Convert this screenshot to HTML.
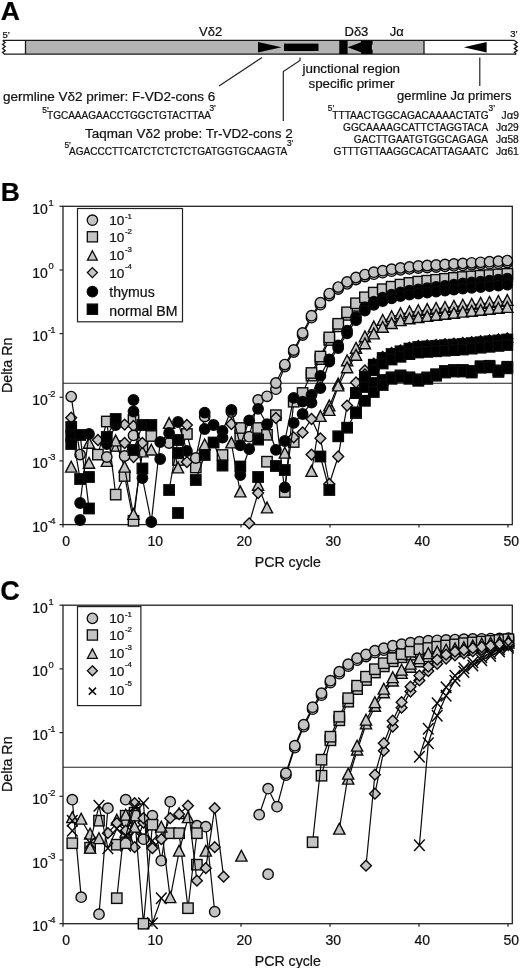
<!DOCTYPE html>
<html><head><meta charset="utf-8"><title>Figure</title>
<style>html,body{margin:0;padding:0;background:#fff}body{width:520px;height:968px;overflow:hidden}svg{display:block}text{font-family:"Liberation Sans",sans-serif;stroke:#111;stroke-width:.22px}</style>
</head><body>
<svg width="520" height="968" viewBox="0 0 520 968">
<rect width="520" height="968" fill="#fff"/>
<text x="0.7" y="20.3"  font-size="26.5" font-weight="bold" fill="#000">A</text>
<rect x="25.5" y="40.4" width="398.5" height="13.7" fill="#b3b3b3"/>
<path d="M3 40.4H514.6M4 54.1H516.2M25.5 40.4V54.1M424 40.4V54.1" fill="none" stroke="#1a1a1a" stroke-width="1.3"/>
<path d="M2.6 40.4L5.2 42.6L2.6 44.6L5.2 46.6L2.6 48.6L5.2 50.6L2.6 52.4L4.4 54.1" fill="none" stroke="#1a1a1a" stroke-width="1.3" stroke-linejoin="miter"/>
<path d="M514.4 40.4L517.2 42.6L514.4 44.6L517.2 46.6L514.4 48.6L517.2 50.6L514.4 52.4L516.2 54.1" fill="none" stroke="#1a1a1a" stroke-width="1.3" stroke-linejoin="miter"/>
<text x="2.5" y="37.5"  font-size="9.5" fill="#111">5’</text>
<text x="510.3" y="37.3"  font-size="9.5" fill="#111">3’</text>
<text x="199" y="36"  font-size="13" fill="#111">Vδ2</text>
<text x="344.5" y="36"  font-size="13" fill="#111">Dδ3</text>
<text x="389.7" y="36"  font-size="13" fill="#111">Jα</text>
<path d="M258 42L281.5 47.2L258 52.5Z" fill="#000"/>
<rect x="284" y="43.6" width="34.5" height="7.4" fill="#000"/>
<rect x="339.3" y="40.5" width="8.3" height="13.5" fill="#000"/>
<path d="M347.6 47.2L361 42.2L361 40.6L372.6 40.6L372.6 53.9L361 53.9L361 52.2Z" fill="#000"/>
<path d="M486.6 42L463.8 47.3L486.6 52.6Z" fill="#000"/>
<rect x="371.9" y="44.6" width="0.9" height="5" fill="#ddd"/>
<path d="M262 57.5L219 86" stroke="#222" stroke-width="1.2" fill="none"/>
<path d="M300 57.5L300 60.5L283.3 71.5L283.3 121" stroke="#222" stroke-width="1.2" fill="none"/>
<path d="M479.8 57.5L479.8 86" stroke="#222" stroke-width="1.2" fill="none"/>
<text x="3" y="100.5"  font-size="13.5" fill="#111">germline Vδ2 primer: F-VD2-cons 6</text>
<text x="47" y="119.3"  font-size="10.04" fill="#111">TGCAAAGAACCTGGCTGTACTTAA</text>
<text x="42.3" y="112.5"  font-size="8.3" fill="#111">5’</text>
<text x="209.5" y="111"  font-size="8.3" fill="#111">3’</text>
<text x="85" y="138"  font-size="13.45" fill="#111">Taqman Vδ2 probe: Tr-VD2-cons 2</text>
<text x="69" y="155"  font-size="10.06" fill="#111">AGACCCTTCATCTCTCTCTGATGGTGCAAGTA</text>
<text x="64.5" y="148"  font-size="8.3" fill="#111">5’</text>
<text x="287" y="146.3"  font-size="8.3" fill="#111">3’</text>
<text x="302.5" y="72.5"  font-size="13.4" fill="#111">junctional region</text>
<text x="308.5" y="87.5"  font-size="13.35" fill="#111">specific primer</text>
<text x="397" y="100"  font-size="13" fill="#111">germline Jα primers</text>
<text x="332.3" y="118.5"  font-size="10.14" fill="#111">TTTAACTGGCAGACAAAACTATG</text>
<text x="518.8" y="118.5" text-anchor="end"  font-size="10.2" fill="#111">J<tspan font-size="11.2">α</tspan>9</text>
<text x="343" y="130.9"  font-size="10.14" fill="#111">GGCAAAAGCATTCTAGGTACA</text>
<text x="518.8" y="130.9" text-anchor="end"  font-size="10.2" fill="#111">J<tspan font-size="11.2">α</tspan>29</text>
<text x="353.8" y="142.8"  font-size="10.14" fill="#111">GACTTGAATGTGGCAGAGA</text>
<text x="518.8" y="142.8" text-anchor="end"  font-size="10.2" fill="#111">J<tspan font-size="11.2">α</tspan>58</text>
<text x="333.5" y="154.7"  font-size="10.14" fill="#111">GTTTGTTAAGGCACATTAGAATC</text>
<text x="518.8" y="154.7" text-anchor="end"  font-size="10.2" fill="#111">J<tspan font-size="11.2">α</tspan>61</text>
<text x="327.8" y="110.8"  font-size="8.3" fill="#111">5’</text>
<text x="488.6" y="110.8"  font-size="8.3" fill="#111">3’</text>
<text x="0.7" y="201"  font-size="26.5" font-weight="bold" fill="#000">B</text>
<rect x="63" y="206.3" width="449.29999999999995" height="318.3" fill="none" stroke="#222" stroke-width="1.3"/>
<line x1="63" x2="512.3" y1="383.3" y2="383.3" stroke="#222" stroke-width="1.1"/>
<line x1="59.5" x2="63" y1="206.3" y2="206.3" stroke="#222" stroke-width="1.2"/>
<text x="47.9" y="213.8" text-anchor="end"  font-size="14" fill="#111">10</text>
<text x="48.4" y="205.7"  font-size="9.4" fill="#111">1</text>
<line x1="59.5" x2="63" y1="270.0" y2="270.0" stroke="#222" stroke-width="1.2"/>
<text x="47.9" y="277.5" text-anchor="end"  font-size="14" fill="#111">10</text>
<text x="48.4" y="269.4"  font-size="9.4" fill="#111">0</text>
<line x1="59.5" x2="63" y1="333.6" y2="333.6" stroke="#222" stroke-width="1.2"/>
<text x="47.9" y="341.1" text-anchor="end"  font-size="14" fill="#111">10</text>
<text x="48.0" y="333.0"  font-size="9.4" letter-spacing="-0.9" fill="#111">-1</text>
<line x1="59.5" x2="63" y1="397.3" y2="397.3" stroke="#222" stroke-width="1.2"/>
<text x="47.9" y="404.8" text-anchor="end"  font-size="14" fill="#111">10</text>
<text x="48.0" y="396.7"  font-size="9.4" letter-spacing="-0.9" fill="#111">-2</text>
<line x1="59.5" x2="63" y1="460.9" y2="460.9" stroke="#222" stroke-width="1.2"/>
<text x="47.9" y="468.4" text-anchor="end"  font-size="14" fill="#111">10</text>
<text x="48.0" y="460.3"  font-size="9.4" letter-spacing="-0.9" fill="#111">-3</text>
<line x1="59.5" x2="63" y1="524.6" y2="524.6" stroke="#222" stroke-width="1.2"/>
<text x="47.9" y="532.1" text-anchor="end"  font-size="14" fill="#111">10</text>
<text x="48.0" y="524.0"  font-size="9.4" letter-spacing="-0.9" fill="#111">-4</text>
<line x1="63.0" x2="63.0" y1="524.6" y2="527.6" stroke="#222" stroke-width="1.2"/>
<text x="66.2" y="545.8" text-anchor="middle"  font-size="14" fill="#111">0</text>
<line x1="152.0" x2="152.0" y1="524.6" y2="527.6" stroke="#222" stroke-width="1.2"/>
<text x="155.2" y="545.8" text-anchor="middle"  font-size="14" fill="#111">10</text>
<line x1="241.0" x2="241.0" y1="524.6" y2="527.6" stroke="#222" stroke-width="1.2"/>
<text x="244.2" y="545.8" text-anchor="middle"  font-size="14" fill="#111">20</text>
<line x1="330.0" x2="330.0" y1="524.6" y2="527.6" stroke="#222" stroke-width="1.2"/>
<text x="333.2" y="545.8" text-anchor="middle"  font-size="14" fill="#111">30</text>
<line x1="419.0" x2="419.0" y1="524.6" y2="527.6" stroke="#222" stroke-width="1.2"/>
<text x="422.2" y="545.8" text-anchor="middle"  font-size="14" fill="#111">40</text>
<line x1="508.0" x2="508.0" y1="524.6" y2="527.6" stroke="#222" stroke-width="1.2"/>
<text x="511.2" y="545.8" text-anchor="middle"  font-size="14" fill="#111">50</text>
<text x="287.8" y="566.6" text-anchor="middle"  font-size="14.2" fill="#111">PCR cycle</text>
<text transform="translate(12.1 365.3) rotate(-90)" text-anchor="middle"  font-size="14.3" fill="#111">Delta Rn</text>
<polyline fill="none" stroke="#0a0a0a" stroke-width="1.2" points="311.5,375.6 320.4,359.1 329.3,340.0 338.2,326.4 347.1,314.9 356.0,305.9 364.9,299.9 373.8,295.2 382.7,291.8 391.6,289.3 400.5,287.2 409.4,285.5 418.3,284.2 427.2,283.3 436.1,282.4 445.0,281.4 453.9,280.5 462.8,279.6 471.7,279.0 480.6,278.3 489.5,277.7 498.4,277.0 507.3,276.4"/>
<rect x="110.5" y="440.8" width="10.4" height="10.4" fill="#c4c4c4" stroke="#0a0a0a" stroke-width="1.4"/>
<rect x="128.3" y="414.8" width="10.4" height="10.4" fill="#c4c4c4" stroke="#0a0a0a" stroke-width="1.4"/>
<rect x="235.1" y="430.6" width="10.4" height="10.4" fill="#c4c4c4" stroke="#0a0a0a" stroke-width="1.4"/>
<rect x="261.8" y="456.5" width="10.4" height="10.4" fill="#c4c4c4" stroke="#0a0a0a" stroke-width="1.4"/>
<rect x="288.5" y="436.8" width="10.4" height="10.4" fill="#c4c4c4" stroke="#0a0a0a" stroke-width="1.4"/>
<rect x="306.3" y="370.4" width="10.4" height="10.4" fill="#c4c4c4" stroke="#0a0a0a" stroke-width="1.4"/>
<rect x="315.2" y="353.9" width="10.4" height="10.4" fill="#c4c4c4" stroke="#0a0a0a" stroke-width="1.4"/>
<rect x="324.1" y="334.8" width="10.4" height="10.4" fill="#c4c4c4" stroke="#0a0a0a" stroke-width="1.4"/>
<rect x="333.0" y="321.2" width="10.4" height="10.4" fill="#c4c4c4" stroke="#0a0a0a" stroke-width="1.4"/>
<rect x="341.9" y="309.7" width="10.4" height="10.4" fill="#c4c4c4" stroke="#0a0a0a" stroke-width="1.4"/>
<rect x="350.8" y="300.7" width="10.4" height="10.4" fill="#c4c4c4" stroke="#0a0a0a" stroke-width="1.4"/>
<rect x="359.7" y="294.7" width="10.4" height="10.4" fill="#c4c4c4" stroke="#0a0a0a" stroke-width="1.4"/>
<rect x="368.6" y="290.0" width="10.4" height="10.4" fill="#c4c4c4" stroke="#0a0a0a" stroke-width="1.4"/>
<rect x="377.5" y="286.6" width="10.4" height="10.4" fill="#c4c4c4" stroke="#0a0a0a" stroke-width="1.4"/>
<rect x="386.4" y="284.1" width="10.4" height="10.4" fill="#c4c4c4" stroke="#0a0a0a" stroke-width="1.4"/>
<rect x="395.3" y="282.0" width="10.4" height="10.4" fill="#c4c4c4" stroke="#0a0a0a" stroke-width="1.4"/>
<rect x="404.2" y="280.3" width="10.4" height="10.4" fill="#c4c4c4" stroke="#0a0a0a" stroke-width="1.4"/>
<rect x="413.1" y="279.0" width="10.4" height="10.4" fill="#c4c4c4" stroke="#0a0a0a" stroke-width="1.4"/>
<rect x="422.0" y="278.1" width="10.4" height="10.4" fill="#c4c4c4" stroke="#0a0a0a" stroke-width="1.4"/>
<rect x="430.9" y="277.2" width="10.4" height="10.4" fill="#c4c4c4" stroke="#0a0a0a" stroke-width="1.4"/>
<rect x="439.8" y="276.2" width="10.4" height="10.4" fill="#c4c4c4" stroke="#0a0a0a" stroke-width="1.4"/>
<rect x="448.7" y="275.3" width="10.4" height="10.4" fill="#c4c4c4" stroke="#0a0a0a" stroke-width="1.4"/>
<rect x="457.6" y="274.4" width="10.4" height="10.4" fill="#c4c4c4" stroke="#0a0a0a" stroke-width="1.4"/>
<rect x="466.5" y="273.8" width="10.4" height="10.4" fill="#c4c4c4" stroke="#0a0a0a" stroke-width="1.4"/>
<rect x="475.4" y="273.1" width="10.4" height="10.4" fill="#c4c4c4" stroke="#0a0a0a" stroke-width="1.4"/>
<rect x="484.3" y="272.5" width="10.4" height="10.4" fill="#c4c4c4" stroke="#0a0a0a" stroke-width="1.4"/>
<rect x="493.2" y="271.8" width="10.4" height="10.4" fill="#c4c4c4" stroke="#0a0a0a" stroke-width="1.4"/>
<rect x="502.1" y="271.2" width="10.4" height="10.4" fill="#c4c4c4" stroke="#0a0a0a" stroke-width="1.4"/>
<polyline fill="none" stroke="#0a0a0a" stroke-width="1.2" points="97.9,454.6 106.8,421.5 115.7,494.6 124.6,476.0 133.5,520.8 142.4,447.0 151.3,436.0"/>
<polyline fill="none" stroke="#0a0a0a" stroke-width="1.2" points="178.0,460.0 186.9,434.0 195.8,467.5"/>
<polyline fill="none" stroke="#0a0a0a" stroke-width="1.2" points="258.1,428.0 267.0,434.8 275.9,415.2 284.8,492.0 293.7,401.7 302.6,393.0 311.5,373.0 320.4,356.5 329.3,337.4 338.2,323.8 347.1,312.3 356.0,303.3 364.9,297.3 373.8,292.6 382.7,289.2 391.6,286.7 400.5,284.6 409.4,282.9 418.3,281.6 427.2,280.7 436.1,279.8 445.0,278.8 453.9,277.9 462.8,277.0 471.7,276.4 480.6,275.7 489.5,275.1 498.4,274.4 507.3,273.8"/>
<rect x="92.7" y="449.4" width="10.4" height="10.4" fill="#c4c4c4" stroke="#0a0a0a" stroke-width="1.4"/>
<rect x="101.6" y="416.3" width="10.4" height="10.4" fill="#c4c4c4" stroke="#0a0a0a" stroke-width="1.4"/>
<rect x="110.5" y="489.4" width="10.4" height="10.4" fill="#c4c4c4" stroke="#0a0a0a" stroke-width="1.4"/>
<rect x="119.4" y="470.8" width="10.4" height="10.4" fill="#c4c4c4" stroke="#0a0a0a" stroke-width="1.4"/>
<rect x="128.3" y="515.6" width="10.4" height="10.4" fill="#c4c4c4" stroke="#0a0a0a" stroke-width="1.4"/>
<rect x="137.2" y="441.8" width="10.4" height="10.4" fill="#c4c4c4" stroke="#0a0a0a" stroke-width="1.4"/>
<rect x="146.1" y="430.8" width="10.4" height="10.4" fill="#c4c4c4" stroke="#0a0a0a" stroke-width="1.4"/>
<rect x="172.8" y="454.8" width="10.4" height="10.4" fill="#c4c4c4" stroke="#0a0a0a" stroke-width="1.4"/>
<rect x="181.7" y="428.8" width="10.4" height="10.4" fill="#c4c4c4" stroke="#0a0a0a" stroke-width="1.4"/>
<rect x="190.6" y="462.3" width="10.4" height="10.4" fill="#c4c4c4" stroke="#0a0a0a" stroke-width="1.4"/>
<rect x="217.3" y="449.8" width="10.4" height="10.4" fill="#c4c4c4" stroke="#0a0a0a" stroke-width="1.4"/>
<rect x="235.1" y="422.8" width="10.4" height="10.4" fill="#c4c4c4" stroke="#0a0a0a" stroke-width="1.4"/>
<rect x="252.9" y="422.8" width="10.4" height="10.4" fill="#c4c4c4" stroke="#0a0a0a" stroke-width="1.4"/>
<rect x="261.8" y="429.6" width="10.4" height="10.4" fill="#c4c4c4" stroke="#0a0a0a" stroke-width="1.4"/>
<rect x="270.7" y="410.0" width="10.4" height="10.4" fill="#c4c4c4" stroke="#0a0a0a" stroke-width="1.4"/>
<rect x="279.6" y="486.8" width="10.4" height="10.4" fill="#c4c4c4" stroke="#0a0a0a" stroke-width="1.4"/>
<rect x="288.5" y="396.5" width="10.4" height="10.4" fill="#c4c4c4" stroke="#0a0a0a" stroke-width="1.4"/>
<rect x="297.4" y="387.8" width="10.4" height="10.4" fill="#c4c4c4" stroke="#0a0a0a" stroke-width="1.4"/>
<rect x="306.3" y="367.8" width="10.4" height="10.4" fill="#c4c4c4" stroke="#0a0a0a" stroke-width="1.4"/>
<rect x="315.2" y="351.3" width="10.4" height="10.4" fill="#c4c4c4" stroke="#0a0a0a" stroke-width="1.4"/>
<rect x="324.1" y="332.2" width="10.4" height="10.4" fill="#c4c4c4" stroke="#0a0a0a" stroke-width="1.4"/>
<rect x="333.0" y="318.6" width="10.4" height="10.4" fill="#c4c4c4" stroke="#0a0a0a" stroke-width="1.4"/>
<rect x="341.9" y="307.1" width="10.4" height="10.4" fill="#c4c4c4" stroke="#0a0a0a" stroke-width="1.4"/>
<rect x="350.8" y="298.1" width="10.4" height="10.4" fill="#c4c4c4" stroke="#0a0a0a" stroke-width="1.4"/>
<rect x="359.7" y="292.1" width="10.4" height="10.4" fill="#c4c4c4" stroke="#0a0a0a" stroke-width="1.4"/>
<rect x="368.6" y="287.4" width="10.4" height="10.4" fill="#c4c4c4" stroke="#0a0a0a" stroke-width="1.4"/>
<rect x="377.5" y="284.0" width="10.4" height="10.4" fill="#c4c4c4" stroke="#0a0a0a" stroke-width="1.4"/>
<rect x="386.4" y="281.5" width="10.4" height="10.4" fill="#c4c4c4" stroke="#0a0a0a" stroke-width="1.4"/>
<rect x="395.3" y="279.4" width="10.4" height="10.4" fill="#c4c4c4" stroke="#0a0a0a" stroke-width="1.4"/>
<rect x="404.2" y="277.7" width="10.4" height="10.4" fill="#c4c4c4" stroke="#0a0a0a" stroke-width="1.4"/>
<rect x="413.1" y="276.4" width="10.4" height="10.4" fill="#c4c4c4" stroke="#0a0a0a" stroke-width="1.4"/>
<rect x="422.0" y="275.5" width="10.4" height="10.4" fill="#c4c4c4" stroke="#0a0a0a" stroke-width="1.4"/>
<rect x="430.9" y="274.6" width="10.4" height="10.4" fill="#c4c4c4" stroke="#0a0a0a" stroke-width="1.4"/>
<rect x="439.8" y="273.6" width="10.4" height="10.4" fill="#c4c4c4" stroke="#0a0a0a" stroke-width="1.4"/>
<rect x="448.7" y="272.7" width="10.4" height="10.4" fill="#c4c4c4" stroke="#0a0a0a" stroke-width="1.4"/>
<rect x="457.6" y="271.8" width="10.4" height="10.4" fill="#c4c4c4" stroke="#0a0a0a" stroke-width="1.4"/>
<rect x="466.5" y="271.2" width="10.4" height="10.4" fill="#c4c4c4" stroke="#0a0a0a" stroke-width="1.4"/>
<rect x="475.4" y="270.5" width="10.4" height="10.4" fill="#c4c4c4" stroke="#0a0a0a" stroke-width="1.4"/>
<rect x="484.3" y="269.9" width="10.4" height="10.4" fill="#c4c4c4" stroke="#0a0a0a" stroke-width="1.4"/>
<rect x="493.2" y="269.2" width="10.4" height="10.4" fill="#c4c4c4" stroke="#0a0a0a" stroke-width="1.4"/>
<rect x="502.1" y="268.6" width="10.4" height="10.4" fill="#c4c4c4" stroke="#0a0a0a" stroke-width="1.4"/>
<polyline fill="none" stroke="#0a0a0a" stroke-width="1.2" points="106.8,462.0 115.7,441.5 124.6,467.7 133.5,515.0 142.4,452.5 151.3,450.6"/>
<polyline fill="none" stroke="#0a0a0a" stroke-width="1.2" points="169.1,424.0 178.0,468.5"/>
<polyline fill="none" stroke="#0a0a0a" stroke-width="1.2" points="231.4,443.5 240.3,492.5"/>
<polyline fill="none" stroke="#0a0a0a" stroke-width="1.2" points="258.1,485.8 267.0,508.5"/>
<polyline fill="none" stroke="#0a0a0a" stroke-width="1.2" points="311.5,472.0 320.4,417.0 329.3,406.5 338.2,384.4 347.1,361.3 356.0,348.8 364.9,337.3 373.8,327.5 382.7,320.9 391.6,317.1 400.5,314.2 409.4,312.3 418.3,311.1 427.2,310.0 436.1,308.9 445.0,307.9 453.9,306.8 462.8,305.7 471.7,304.8 480.6,303.8 489.5,302.9 498.4,301.9 507.3,301.0"/>
<path d="M71.2 461.3L76.8 472.1L65.6 472.1Z" fill="#c4c4c4" stroke="#0a0a0a" stroke-width="1.4" stroke-linejoin="miter"/>
<path d="M89.0 437.4L94.6 448.2L83.4 448.2Z" fill="#c4c4c4" stroke="#0a0a0a" stroke-width="1.4" stroke-linejoin="miter"/>
<path d="M106.8 455.6L112.4 466.4L101.2 466.4Z" fill="#c4c4c4" stroke="#0a0a0a" stroke-width="1.4" stroke-linejoin="miter"/>
<path d="M115.7 435.1L121.3 445.9L110.1 445.9Z" fill="#c4c4c4" stroke="#0a0a0a" stroke-width="1.4" stroke-linejoin="miter"/>
<path d="M124.6 461.3L130.2 472.1L119.0 472.1Z" fill="#c4c4c4" stroke="#0a0a0a" stroke-width="1.4" stroke-linejoin="miter"/>
<path d="M133.5 508.6L139.1 519.4L127.9 519.4Z" fill="#c4c4c4" stroke="#0a0a0a" stroke-width="1.4" stroke-linejoin="miter"/>
<path d="M142.4 446.1L148.0 456.9L136.8 456.9Z" fill="#c4c4c4" stroke="#0a0a0a" stroke-width="1.4" stroke-linejoin="miter"/>
<path d="M151.3 444.2L156.9 455.0L145.7 455.0Z" fill="#c4c4c4" stroke="#0a0a0a" stroke-width="1.4" stroke-linejoin="miter"/>
<path d="M169.1 417.6L174.7 428.4L163.5 428.4Z" fill="#c4c4c4" stroke="#0a0a0a" stroke-width="1.4" stroke-linejoin="miter"/>
<path d="M178.0 462.1L183.6 472.9L172.4 472.9Z" fill="#c4c4c4" stroke="#0a0a0a" stroke-width="1.4" stroke-linejoin="miter"/>
<path d="M204.7 439.0L210.3 449.8L199.1 449.8Z" fill="#c4c4c4" stroke="#0a0a0a" stroke-width="1.4" stroke-linejoin="miter"/>
<path d="M231.4 437.1L237.0 447.9L225.8 447.9Z" fill="#c4c4c4" stroke="#0a0a0a" stroke-width="1.4" stroke-linejoin="miter"/>
<path d="M240.3 486.1L245.9 496.9L234.7 496.9Z" fill="#c4c4c4" stroke="#0a0a0a" stroke-width="1.4" stroke-linejoin="miter"/>
<path d="M258.1 479.4L263.7 490.2L252.5 490.2Z" fill="#c4c4c4" stroke="#0a0a0a" stroke-width="1.4" stroke-linejoin="miter"/>
<path d="M267.0 502.1L272.6 512.9L261.4 512.9Z" fill="#c4c4c4" stroke="#0a0a0a" stroke-width="1.4" stroke-linejoin="miter"/>
<path d="M284.8 447.3L290.4 458.1L279.2 458.1Z" fill="#c4c4c4" stroke="#0a0a0a" stroke-width="1.4" stroke-linejoin="miter"/>
<path d="M311.5 465.6L317.1 476.4L305.9 476.4Z" fill="#c4c4c4" stroke="#0a0a0a" stroke-width="1.4" stroke-linejoin="miter"/>
<path d="M320.4 410.6L326.0 421.4L314.8 421.4Z" fill="#c4c4c4" stroke="#0a0a0a" stroke-width="1.4" stroke-linejoin="miter"/>
<path d="M329.3 400.1L334.9 410.9L323.7 410.9Z" fill="#c4c4c4" stroke="#0a0a0a" stroke-width="1.4" stroke-linejoin="miter"/>
<path d="M338.2 378.0L343.8 388.8L332.6 388.8Z" fill="#c4c4c4" stroke="#0a0a0a" stroke-width="1.4" stroke-linejoin="miter"/>
<path d="M347.1 354.9L352.7 365.7L341.5 365.7Z" fill="#c4c4c4" stroke="#0a0a0a" stroke-width="1.4" stroke-linejoin="miter"/>
<path d="M356.0 342.4L361.6 353.2L350.4 353.2Z" fill="#c4c4c4" stroke="#0a0a0a" stroke-width="1.4" stroke-linejoin="miter"/>
<path d="M364.9 330.9L370.5 341.7L359.3 341.7Z" fill="#c4c4c4" stroke="#0a0a0a" stroke-width="1.4" stroke-linejoin="miter"/>
<path d="M373.8 321.1L379.4 331.9L368.2 331.9Z" fill="#c4c4c4" stroke="#0a0a0a" stroke-width="1.4" stroke-linejoin="miter"/>
<path d="M382.7 314.5L388.3 325.3L377.1 325.3Z" fill="#c4c4c4" stroke="#0a0a0a" stroke-width="1.4" stroke-linejoin="miter"/>
<path d="M391.6 310.7L397.2 321.5L386.0 321.5Z" fill="#c4c4c4" stroke="#0a0a0a" stroke-width="1.4" stroke-linejoin="miter"/>
<path d="M400.5 307.8L406.1 318.6L394.9 318.6Z" fill="#c4c4c4" stroke="#0a0a0a" stroke-width="1.4" stroke-linejoin="miter"/>
<path d="M409.4 305.9L415.0 316.7L403.8 316.7Z" fill="#c4c4c4" stroke="#0a0a0a" stroke-width="1.4" stroke-linejoin="miter"/>
<path d="M418.3 304.7L423.9 315.5L412.7 315.5Z" fill="#c4c4c4" stroke="#0a0a0a" stroke-width="1.4" stroke-linejoin="miter"/>
<path d="M427.2 303.6L432.8 314.4L421.6 314.4Z" fill="#c4c4c4" stroke="#0a0a0a" stroke-width="1.4" stroke-linejoin="miter"/>
<path d="M436.1 302.5L441.7 313.3L430.5 313.3Z" fill="#c4c4c4" stroke="#0a0a0a" stroke-width="1.4" stroke-linejoin="miter"/>
<path d="M445.0 301.5L450.6 312.3L439.4 312.3Z" fill="#c4c4c4" stroke="#0a0a0a" stroke-width="1.4" stroke-linejoin="miter"/>
<path d="M453.9 300.4L459.5 311.2L448.3 311.2Z" fill="#c4c4c4" stroke="#0a0a0a" stroke-width="1.4" stroke-linejoin="miter"/>
<path d="M462.8 299.3L468.4 310.1L457.2 310.1Z" fill="#c4c4c4" stroke="#0a0a0a" stroke-width="1.4" stroke-linejoin="miter"/>
<path d="M471.7 298.4L477.3 309.2L466.1 309.2Z" fill="#c4c4c4" stroke="#0a0a0a" stroke-width="1.4" stroke-linejoin="miter"/>
<path d="M480.6 297.4L486.2 308.2L475.0 308.2Z" fill="#c4c4c4" stroke="#0a0a0a" stroke-width="1.4" stroke-linejoin="miter"/>
<path d="M489.5 296.5L495.1 307.3L483.9 307.3Z" fill="#c4c4c4" stroke="#0a0a0a" stroke-width="1.4" stroke-linejoin="miter"/>
<path d="M498.4 295.5L504.0 306.3L492.8 306.3Z" fill="#c4c4c4" stroke="#0a0a0a" stroke-width="1.4" stroke-linejoin="miter"/>
<path d="M507.3 294.6L512.9 305.4L501.7 305.4Z" fill="#c4c4c4" stroke="#0a0a0a" stroke-width="1.4" stroke-linejoin="miter"/>
<polyline fill="none" stroke="#0a0a0a" stroke-width="1.2" points="329.3,411.0 338.2,386.5 347.1,368.3 356.0,355.8 364.9,344.3 373.8,334.5 382.7,327.9 391.6,324.1 400.5,321.2 409.4,319.3 418.3,318.1 427.2,317.0 436.1,315.9 445.0,314.9 453.9,313.8 462.8,312.7 471.7,311.8 480.6,310.8 489.5,309.9 498.4,308.9 507.3,308.0"/>
<path d="M89.0 457.4L94.6 468.2L83.4 468.2Z" fill="#c4c4c4" stroke="#0a0a0a" stroke-width="1.4" stroke-linejoin="miter"/>
<path d="M329.3 404.6L334.9 415.4L323.7 415.4Z" fill="#c4c4c4" stroke="#0a0a0a" stroke-width="1.4" stroke-linejoin="miter"/>
<path d="M338.2 380.1L343.8 390.9L332.6 390.9Z" fill="#c4c4c4" stroke="#0a0a0a" stroke-width="1.4" stroke-linejoin="miter"/>
<path d="M347.1 361.9L352.7 372.7L341.5 372.7Z" fill="#c4c4c4" stroke="#0a0a0a" stroke-width="1.4" stroke-linejoin="miter"/>
<path d="M356.0 349.4L361.6 360.2L350.4 360.2Z" fill="#c4c4c4" stroke="#0a0a0a" stroke-width="1.4" stroke-linejoin="miter"/>
<path d="M364.9 337.9L370.5 348.7L359.3 348.7Z" fill="#c4c4c4" stroke="#0a0a0a" stroke-width="1.4" stroke-linejoin="miter"/>
<path d="M373.8 328.1L379.4 338.9L368.2 338.9Z" fill="#c4c4c4" stroke="#0a0a0a" stroke-width="1.4" stroke-linejoin="miter"/>
<path d="M382.7 321.5L388.3 332.3L377.1 332.3Z" fill="#c4c4c4" stroke="#0a0a0a" stroke-width="1.4" stroke-linejoin="miter"/>
<path d="M391.6 317.7L397.2 328.5L386.0 328.5Z" fill="#c4c4c4" stroke="#0a0a0a" stroke-width="1.4" stroke-linejoin="miter"/>
<path d="M400.5 314.8L406.1 325.6L394.9 325.6Z" fill="#c4c4c4" stroke="#0a0a0a" stroke-width="1.4" stroke-linejoin="miter"/>
<path d="M409.4 312.9L415.0 323.7L403.8 323.7Z" fill="#c4c4c4" stroke="#0a0a0a" stroke-width="1.4" stroke-linejoin="miter"/>
<path d="M418.3 311.7L423.9 322.5L412.7 322.5Z" fill="#c4c4c4" stroke="#0a0a0a" stroke-width="1.4" stroke-linejoin="miter"/>
<path d="M427.2 310.6L432.8 321.4L421.6 321.4Z" fill="#c4c4c4" stroke="#0a0a0a" stroke-width="1.4" stroke-linejoin="miter"/>
<path d="M436.1 309.5L441.7 320.3L430.5 320.3Z" fill="#c4c4c4" stroke="#0a0a0a" stroke-width="1.4" stroke-linejoin="miter"/>
<path d="M445.0 308.5L450.6 319.3L439.4 319.3Z" fill="#c4c4c4" stroke="#0a0a0a" stroke-width="1.4" stroke-linejoin="miter"/>
<path d="M453.9 307.4L459.5 318.2L448.3 318.2Z" fill="#c4c4c4" stroke="#0a0a0a" stroke-width="1.4" stroke-linejoin="miter"/>
<path d="M462.8 306.3L468.4 317.1L457.2 317.1Z" fill="#c4c4c4" stroke="#0a0a0a" stroke-width="1.4" stroke-linejoin="miter"/>
<path d="M471.7 305.4L477.3 316.2L466.1 316.2Z" fill="#c4c4c4" stroke="#0a0a0a" stroke-width="1.4" stroke-linejoin="miter"/>
<path d="M480.6 304.4L486.2 315.2L475.0 315.2Z" fill="#c4c4c4" stroke="#0a0a0a" stroke-width="1.4" stroke-linejoin="miter"/>
<path d="M489.5 303.5L495.1 314.3L483.9 314.3Z" fill="#c4c4c4" stroke="#0a0a0a" stroke-width="1.4" stroke-linejoin="miter"/>
<path d="M498.4 302.5L504.0 313.3L492.8 313.3Z" fill="#c4c4c4" stroke="#0a0a0a" stroke-width="1.4" stroke-linejoin="miter"/>
<path d="M507.3 301.6L512.9 312.4L501.7 312.4Z" fill="#c4c4c4" stroke="#0a0a0a" stroke-width="1.4" stroke-linejoin="miter"/>
<polyline fill="none" stroke="#0a0a0a" stroke-width="1.2" points="124.6,424.6 133.5,426.0 142.4,443.0"/>
<polyline fill="none" stroke="#0a0a0a" stroke-width="1.2" points="249.2,523.3 258.1,493.0"/>
<polyline fill="none" stroke="#0a0a0a" stroke-width="1.2" points="293.7,437.3 302.6,432.5 311.5,419.0 320.4,438.3 329.3,484.0 338.2,456.5 347.1,405.6 356.0,382.5 364.9,370.5 373.8,363.7 382.7,357.0 391.6,353.0 400.5,350.3 409.4,347.6 418.3,346.0 427.2,345.4 436.1,344.8 445.0,344.2 453.9,343.6 462.8,343.0 471.7,342.1 480.6,341.2 489.5,340.3 498.4,339.4 507.3,338.5"/>
<path d="M71.2 412.3L76.6 417.7L71.2 423.1L65.8 417.7Z" fill="#c4c4c4" stroke="#0a0a0a" stroke-width="1.4"/>
<path d="M97.9 434.6L103.3 440.0L97.9 445.4L92.5 440.0Z" fill="#c4c4c4" stroke="#0a0a0a" stroke-width="1.4"/>
<path d="M124.6 419.2L130.0 424.6L124.6 430.0L119.2 424.6Z" fill="#c4c4c4" stroke="#0a0a0a" stroke-width="1.4"/>
<path d="M133.5 420.6L138.9 426.0L133.5 431.4L128.1 426.0Z" fill="#c4c4c4" stroke="#0a0a0a" stroke-width="1.4"/>
<path d="M142.4 437.6L147.8 443.0L142.4 448.4L137.0 443.0Z" fill="#c4c4c4" stroke="#0a0a0a" stroke-width="1.4"/>
<path d="M186.9 419.6L192.3 425.0L186.9 430.4L181.5 425.0Z" fill="#c4c4c4" stroke="#0a0a0a" stroke-width="1.4"/>
<path d="M231.4 418.6L236.8 424.0L231.4 429.4L226.0 424.0Z" fill="#c4c4c4" stroke="#0a0a0a" stroke-width="1.4"/>
<path d="M249.2 517.9L254.6 523.3L249.2 528.7L243.8 523.3Z" fill="#c4c4c4" stroke="#0a0a0a" stroke-width="1.4"/>
<path d="M258.1 487.6L263.5 493.0L258.1 498.4L252.7 493.0Z" fill="#c4c4c4" stroke="#0a0a0a" stroke-width="1.4"/>
<path d="M275.9 412.6L281.3 418.0L275.9 423.4L270.5 418.0Z" fill="#c4c4c4" stroke="#0a0a0a" stroke-width="1.4"/>
<path d="M293.7 431.9L299.1 437.3L293.7 442.7L288.3 437.3Z" fill="#c4c4c4" stroke="#0a0a0a" stroke-width="1.4"/>
<path d="M302.6 427.1L308.0 432.5L302.6 437.9L297.2 432.5Z" fill="#c4c4c4" stroke="#0a0a0a" stroke-width="1.4"/>
<path d="M311.5 413.6L316.9 419.0L311.5 424.4L306.1 419.0Z" fill="#c4c4c4" stroke="#0a0a0a" stroke-width="1.4"/>
<path d="M320.4 432.9L325.8 438.3L320.4 443.7L315.0 438.3Z" fill="#c4c4c4" stroke="#0a0a0a" stroke-width="1.4"/>
<path d="M329.3 478.6L334.7 484.0L329.3 489.4L323.9 484.0Z" fill="#c4c4c4" stroke="#0a0a0a" stroke-width="1.4"/>
<path d="M338.2 451.1L343.6 456.5L338.2 461.9L332.8 456.5Z" fill="#c4c4c4" stroke="#0a0a0a" stroke-width="1.4"/>
<path d="M347.1 400.2L352.5 405.6L347.1 411.0L341.7 405.6Z" fill="#c4c4c4" stroke="#0a0a0a" stroke-width="1.4"/>
<path d="M356.0 377.1L361.4 382.5L356.0 387.9L350.6 382.5Z" fill="#c4c4c4" stroke="#0a0a0a" stroke-width="1.4"/>
<path d="M364.9 365.1L370.3 370.5L364.9 375.9L359.5 370.5Z" fill="#c4c4c4" stroke="#0a0a0a" stroke-width="1.4"/>
<path d="M373.8 358.3L379.2 363.7L373.8 369.1L368.4 363.7Z" fill="#c4c4c4" stroke="#0a0a0a" stroke-width="1.4"/>
<path d="M382.7 351.6L388.1 357.0L382.7 362.4L377.3 357.0Z" fill="#c4c4c4" stroke="#0a0a0a" stroke-width="1.4"/>
<path d="M391.6 347.6L397.0 353.0L391.6 358.4L386.2 353.0Z" fill="#c4c4c4" stroke="#0a0a0a" stroke-width="1.4"/>
<path d="M400.5 344.9L405.9 350.3L400.5 355.7L395.1 350.3Z" fill="#c4c4c4" stroke="#0a0a0a" stroke-width="1.4"/>
<path d="M409.4 342.2L414.8 347.6L409.4 353.0L404.0 347.6Z" fill="#c4c4c4" stroke="#0a0a0a" stroke-width="1.4"/>
<path d="M418.3 340.6L423.7 346.0L418.3 351.4L412.9 346.0Z" fill="#c4c4c4" stroke="#0a0a0a" stroke-width="1.4"/>
<path d="M427.2 340.0L432.6 345.4L427.2 350.8L421.8 345.4Z" fill="#c4c4c4" stroke="#0a0a0a" stroke-width="1.4"/>
<path d="M436.1 339.4L441.5 344.8L436.1 350.2L430.7 344.8Z" fill="#c4c4c4" stroke="#0a0a0a" stroke-width="1.4"/>
<path d="M445.0 338.8L450.4 344.2L445.0 349.6L439.6 344.2Z" fill="#c4c4c4" stroke="#0a0a0a" stroke-width="1.4"/>
<path d="M453.9 338.2L459.3 343.6L453.9 349.0L448.5 343.6Z" fill="#c4c4c4" stroke="#0a0a0a" stroke-width="1.4"/>
<path d="M462.8 337.6L468.2 343.0L462.8 348.4L457.4 343.0Z" fill="#c4c4c4" stroke="#0a0a0a" stroke-width="1.4"/>
<path d="M471.7 336.7L477.1 342.1L471.7 347.5L466.3 342.1Z" fill="#c4c4c4" stroke="#0a0a0a" stroke-width="1.4"/>
<path d="M480.6 335.8L486.0 341.2L480.6 346.6L475.2 341.2Z" fill="#c4c4c4" stroke="#0a0a0a" stroke-width="1.4"/>
<path d="M489.5 334.9L494.9 340.3L489.5 345.7L484.1 340.3Z" fill="#c4c4c4" stroke="#0a0a0a" stroke-width="1.4"/>
<path d="M498.4 334.0L503.8 339.4L498.4 344.8L493.0 339.4Z" fill="#c4c4c4" stroke="#0a0a0a" stroke-width="1.4"/>
<path d="M507.3 333.1L512.7 338.5L507.3 343.9L501.9 338.5Z" fill="#c4c4c4" stroke="#0a0a0a" stroke-width="1.4"/>
<polyline fill="none" stroke="#0a0a0a" stroke-width="1.2" points="124.6,443.0 133.5,457.0"/>
<polyline fill="none" stroke="#0a0a0a" stroke-width="1.2" points="364.9,374.5 373.8,367.7 382.7,361.0 391.6,357.0 400.5,354.3 409.4,351.6 418.3,350.0 427.2,349.4 436.1,348.8 445.0,348.2 453.9,347.6 462.8,347.0 471.7,346.1 480.6,345.2 489.5,344.3 498.4,343.4 507.3,342.5"/>
<path d="M124.6 437.6L130.0 443.0L124.6 448.4L119.2 443.0Z" fill="#c4c4c4" stroke="#0a0a0a" stroke-width="1.4"/>
<path d="M133.5 451.6L138.9 457.0L133.5 462.4L128.1 457.0Z" fill="#c4c4c4" stroke="#0a0a0a" stroke-width="1.4"/>
<path d="M186.9 456.6L192.3 462.0L186.9 467.4L181.5 462.0Z" fill="#c4c4c4" stroke="#0a0a0a" stroke-width="1.4"/>
<path d="M311.5 449.2L316.9 454.6L311.5 460.0L306.1 454.6Z" fill="#c4c4c4" stroke="#0a0a0a" stroke-width="1.4"/>
<path d="M364.9 369.1L370.3 374.5L364.9 379.9L359.5 374.5Z" fill="#c4c4c4" stroke="#0a0a0a" stroke-width="1.4"/>
<path d="M373.8 362.3L379.2 367.7L373.8 373.1L368.4 367.7Z" fill="#c4c4c4" stroke="#0a0a0a" stroke-width="1.4"/>
<path d="M382.7 355.6L388.1 361.0L382.7 366.4L377.3 361.0Z" fill="#c4c4c4" stroke="#0a0a0a" stroke-width="1.4"/>
<path d="M391.6 351.6L397.0 357.0L391.6 362.4L386.2 357.0Z" fill="#c4c4c4" stroke="#0a0a0a" stroke-width="1.4"/>
<path d="M400.5 348.9L405.9 354.3L400.5 359.7L395.1 354.3Z" fill="#c4c4c4" stroke="#0a0a0a" stroke-width="1.4"/>
<path d="M409.4 346.2L414.8 351.6L409.4 357.0L404.0 351.6Z" fill="#c4c4c4" stroke="#0a0a0a" stroke-width="1.4"/>
<path d="M418.3 344.6L423.7 350.0L418.3 355.4L412.9 350.0Z" fill="#c4c4c4" stroke="#0a0a0a" stroke-width="1.4"/>
<path d="M427.2 344.0L432.6 349.4L427.2 354.8L421.8 349.4Z" fill="#c4c4c4" stroke="#0a0a0a" stroke-width="1.4"/>
<path d="M436.1 343.4L441.5 348.8L436.1 354.2L430.7 348.8Z" fill="#c4c4c4" stroke="#0a0a0a" stroke-width="1.4"/>
<path d="M445.0 342.8L450.4 348.2L445.0 353.6L439.6 348.2Z" fill="#c4c4c4" stroke="#0a0a0a" stroke-width="1.4"/>
<path d="M453.9 342.2L459.3 347.6L453.9 353.0L448.5 347.6Z" fill="#c4c4c4" stroke="#0a0a0a" stroke-width="1.4"/>
<path d="M462.8 341.6L468.2 347.0L462.8 352.4L457.4 347.0Z" fill="#c4c4c4" stroke="#0a0a0a" stroke-width="1.4"/>
<path d="M471.7 340.7L477.1 346.1L471.7 351.5L466.3 346.1Z" fill="#c4c4c4" stroke="#0a0a0a" stroke-width="1.4"/>
<path d="M480.6 339.8L486.0 345.2L480.6 350.6L475.2 345.2Z" fill="#c4c4c4" stroke="#0a0a0a" stroke-width="1.4"/>
<path d="M489.5 338.9L494.9 344.3L489.5 349.7L484.1 344.3Z" fill="#c4c4c4" stroke="#0a0a0a" stroke-width="1.4"/>
<path d="M498.4 338.0L503.8 343.4L498.4 348.8L493.0 343.4Z" fill="#c4c4c4" stroke="#0a0a0a" stroke-width="1.4"/>
<path d="M507.3 337.1L512.7 342.5L507.3 347.9L501.9 342.5Z" fill="#c4c4c4" stroke="#0a0a0a" stroke-width="1.4"/>
<polyline fill="none" stroke="#0a0a0a" stroke-width="1.2" points="71.2,396.6 80.1,454.6"/>
<polyline fill="none" stroke="#0a0a0a" stroke-width="1.2" points="124.6,456.0 133.5,435.4"/>
<polyline fill="none" stroke="#0a0a0a" stroke-width="1.2" points="195.8,458.0 204.7,416.5"/>
<polyline fill="none" stroke="#0a0a0a" stroke-width="1.2" points="249.2,436.7 258.1,400.0 267.0,396.3 275.9,389.2 284.8,366.6 293.7,352.0 302.6,335.0 311.5,317.7 320.4,304.7 329.3,295.6 338.2,289.1 347.1,283.9 356.0,279.5 364.9,276.6 373.8,274.2 382.7,272.7 391.6,271.2 400.5,269.9 409.4,268.9 418.3,268.0 427.2,267.5 436.1,267.0 445.0,266.4 453.9,265.9 462.8,265.4 471.7,264.8 480.6,264.3 489.5,263.7 498.4,263.2 507.3,262.6"/>
<circle cx="71.2" cy="396.6" r="5.2" fill="#c4c4c4" stroke="#0a0a0a" stroke-width="1.4"/>
<circle cx="80.1" cy="454.6" r="5.2" fill="#c4c4c4" stroke="#0a0a0a" stroke-width="1.4"/>
<circle cx="106.8" cy="457.0" r="5.2" fill="#c4c4c4" stroke="#0a0a0a" stroke-width="1.4"/>
<circle cx="124.6" cy="456.0" r="5.2" fill="#c4c4c4" stroke="#0a0a0a" stroke-width="1.4"/>
<circle cx="133.5" cy="435.4" r="5.2" fill="#c4c4c4" stroke="#0a0a0a" stroke-width="1.4"/>
<circle cx="169.1" cy="443.0" r="5.2" fill="#c4c4c4" stroke="#0a0a0a" stroke-width="1.4"/>
<circle cx="195.8" cy="458.0" r="5.2" fill="#c4c4c4" stroke="#0a0a0a" stroke-width="1.4"/>
<circle cx="204.7" cy="416.5" r="5.2" fill="#c4c4c4" stroke="#0a0a0a" stroke-width="1.4"/>
<circle cx="231.4" cy="412.0" r="5.2" fill="#c4c4c4" stroke="#0a0a0a" stroke-width="1.4"/>
<circle cx="249.2" cy="436.7" r="5.2" fill="#c4c4c4" stroke="#0a0a0a" stroke-width="1.4"/>
<circle cx="258.1" cy="400.0" r="5.2" fill="#c4c4c4" stroke="#0a0a0a" stroke-width="1.4"/>
<circle cx="267.0" cy="396.3" r="5.2" fill="#c4c4c4" stroke="#0a0a0a" stroke-width="1.4"/>
<circle cx="275.9" cy="389.2" r="5.2" fill="#c4c4c4" stroke="#0a0a0a" stroke-width="1.4"/>
<circle cx="284.8" cy="366.6" r="5.2" fill="#c4c4c4" stroke="#0a0a0a" stroke-width="1.4"/>
<circle cx="293.7" cy="352.0" r="5.2" fill="#c4c4c4" stroke="#0a0a0a" stroke-width="1.4"/>
<circle cx="302.6" cy="335.0" r="5.2" fill="#c4c4c4" stroke="#0a0a0a" stroke-width="1.4"/>
<circle cx="311.5" cy="317.7" r="5.2" fill="#c4c4c4" stroke="#0a0a0a" stroke-width="1.4"/>
<circle cx="320.4" cy="304.7" r="5.2" fill="#c4c4c4" stroke="#0a0a0a" stroke-width="1.4"/>
<circle cx="329.3" cy="295.6" r="5.2" fill="#c4c4c4" stroke="#0a0a0a" stroke-width="1.4"/>
<circle cx="338.2" cy="289.1" r="5.2" fill="#c4c4c4" stroke="#0a0a0a" stroke-width="1.4"/>
<circle cx="347.1" cy="283.9" r="5.2" fill="#c4c4c4" stroke="#0a0a0a" stroke-width="1.4"/>
<circle cx="356.0" cy="279.5" r="5.2" fill="#c4c4c4" stroke="#0a0a0a" stroke-width="1.4"/>
<circle cx="364.9" cy="276.6" r="5.2" fill="#c4c4c4" stroke="#0a0a0a" stroke-width="1.4"/>
<circle cx="373.8" cy="274.2" r="5.2" fill="#c4c4c4" stroke="#0a0a0a" stroke-width="1.4"/>
<circle cx="382.7" cy="272.7" r="5.2" fill="#c4c4c4" stroke="#0a0a0a" stroke-width="1.4"/>
<circle cx="391.6" cy="271.2" r="5.2" fill="#c4c4c4" stroke="#0a0a0a" stroke-width="1.4"/>
<circle cx="400.5" cy="269.9" r="5.2" fill="#c4c4c4" stroke="#0a0a0a" stroke-width="1.4"/>
<circle cx="409.4" cy="268.9" r="5.2" fill="#c4c4c4" stroke="#0a0a0a" stroke-width="1.4"/>
<circle cx="418.3" cy="268.0" r="5.2" fill="#c4c4c4" stroke="#0a0a0a" stroke-width="1.4"/>
<circle cx="427.2" cy="267.5" r="5.2" fill="#c4c4c4" stroke="#0a0a0a" stroke-width="1.4"/>
<circle cx="436.1" cy="267.0" r="5.2" fill="#c4c4c4" stroke="#0a0a0a" stroke-width="1.4"/>
<circle cx="445.0" cy="266.4" r="5.2" fill="#c4c4c4" stroke="#0a0a0a" stroke-width="1.4"/>
<circle cx="453.9" cy="265.9" r="5.2" fill="#c4c4c4" stroke="#0a0a0a" stroke-width="1.4"/>
<circle cx="462.8" cy="265.4" r="5.2" fill="#c4c4c4" stroke="#0a0a0a" stroke-width="1.4"/>
<circle cx="471.7" cy="264.8" r="5.2" fill="#c4c4c4" stroke="#0a0a0a" stroke-width="1.4"/>
<circle cx="480.6" cy="264.3" r="5.2" fill="#c4c4c4" stroke="#0a0a0a" stroke-width="1.4"/>
<circle cx="489.5" cy="263.7" r="5.2" fill="#c4c4c4" stroke="#0a0a0a" stroke-width="1.4"/>
<circle cx="498.4" cy="263.2" r="5.2" fill="#c4c4c4" stroke="#0a0a0a" stroke-width="1.4"/>
<circle cx="507.3" cy="262.6" r="5.2" fill="#c4c4c4" stroke="#0a0a0a" stroke-width="1.4"/>
<polyline fill="none" stroke="#0a0a0a" stroke-width="1.2" points="275.9,383.0 284.8,364.6 293.7,350.0 302.6,333.0 311.5,315.7 320.4,302.7 329.3,293.6 338.2,287.1 347.1,281.9 356.0,277.5 364.9,274.6 373.8,272.2 382.7,270.7 391.6,269.2 400.5,267.9 409.4,266.9 418.3,266.0 427.2,265.5 436.1,265.0 445.0,264.4 453.9,263.9 462.8,263.4 471.7,262.8 480.6,262.3 489.5,261.7 498.4,261.2 507.3,260.6"/>
<circle cx="275.9" cy="383.0" r="5.2" fill="#c4c4c4" stroke="#0a0a0a" stroke-width="1.4"/>
<circle cx="284.8" cy="364.6" r="5.2" fill="#c4c4c4" stroke="#0a0a0a" stroke-width="1.4"/>
<circle cx="293.7" cy="350.0" r="5.2" fill="#c4c4c4" stroke="#0a0a0a" stroke-width="1.4"/>
<circle cx="302.6" cy="333.0" r="5.2" fill="#c4c4c4" stroke="#0a0a0a" stroke-width="1.4"/>
<circle cx="311.5" cy="315.7" r="5.2" fill="#c4c4c4" stroke="#0a0a0a" stroke-width="1.4"/>
<circle cx="320.4" cy="302.7" r="5.2" fill="#c4c4c4" stroke="#0a0a0a" stroke-width="1.4"/>
<circle cx="329.3" cy="293.6" r="5.2" fill="#c4c4c4" stroke="#0a0a0a" stroke-width="1.4"/>
<circle cx="338.2" cy="287.1" r="5.2" fill="#c4c4c4" stroke="#0a0a0a" stroke-width="1.4"/>
<circle cx="347.1" cy="281.9" r="5.2" fill="#c4c4c4" stroke="#0a0a0a" stroke-width="1.4"/>
<circle cx="356.0" cy="277.5" r="5.2" fill="#c4c4c4" stroke="#0a0a0a" stroke-width="1.4"/>
<circle cx="364.9" cy="274.6" r="5.2" fill="#c4c4c4" stroke="#0a0a0a" stroke-width="1.4"/>
<circle cx="373.8" cy="272.2" r="5.2" fill="#c4c4c4" stroke="#0a0a0a" stroke-width="1.4"/>
<circle cx="382.7" cy="270.7" r="5.2" fill="#c4c4c4" stroke="#0a0a0a" stroke-width="1.4"/>
<circle cx="391.6" cy="269.2" r="5.2" fill="#c4c4c4" stroke="#0a0a0a" stroke-width="1.4"/>
<circle cx="400.5" cy="267.9" r="5.2" fill="#c4c4c4" stroke="#0a0a0a" stroke-width="1.4"/>
<circle cx="409.4" cy="266.9" r="5.2" fill="#c4c4c4" stroke="#0a0a0a" stroke-width="1.4"/>
<circle cx="418.3" cy="266.0" r="5.2" fill="#c4c4c4" stroke="#0a0a0a" stroke-width="1.4"/>
<circle cx="427.2" cy="265.5" r="5.2" fill="#c4c4c4" stroke="#0a0a0a" stroke-width="1.4"/>
<circle cx="436.1" cy="265.0" r="5.2" fill="#c4c4c4" stroke="#0a0a0a" stroke-width="1.4"/>
<circle cx="445.0" cy="264.4" r="5.2" fill="#c4c4c4" stroke="#0a0a0a" stroke-width="1.4"/>
<circle cx="453.9" cy="263.9" r="5.2" fill="#c4c4c4" stroke="#0a0a0a" stroke-width="1.4"/>
<circle cx="462.8" cy="263.4" r="5.2" fill="#c4c4c4" stroke="#0a0a0a" stroke-width="1.4"/>
<circle cx="471.7" cy="262.8" r="5.2" fill="#c4c4c4" stroke="#0a0a0a" stroke-width="1.4"/>
<circle cx="480.6" cy="262.3" r="5.2" fill="#c4c4c4" stroke="#0a0a0a" stroke-width="1.4"/>
<circle cx="489.5" cy="261.7" r="5.2" fill="#c4c4c4" stroke="#0a0a0a" stroke-width="1.4"/>
<circle cx="498.4" cy="261.2" r="5.2" fill="#c4c4c4" stroke="#0a0a0a" stroke-width="1.4"/>
<circle cx="507.3" cy="260.6" r="5.2" fill="#c4c4c4" stroke="#0a0a0a" stroke-width="1.4"/>
<polyline fill="none" stroke="#0a0a0a" stroke-width="1.2" points="80.1,503.0 89.0,434.0"/>
<polyline fill="none" stroke="#0a0a0a" stroke-width="1.2" points="106.8,444.0 115.7,425.0"/>
<polyline fill="none" stroke="#0a0a0a" stroke-width="1.2" points="133.5,400.0 142.4,478.0 151.3,522.0 160.2,442.0 169.1,433.0 178.0,422.0 186.9,451.0"/>
<polyline fill="none" stroke="#0a0a0a" stroke-width="1.2" points="204.7,412.7 213.6,425.0 222.5,431.0 231.4,409.8 240.3,445.4 249.2,420.4 258.1,408.8 267.0,424.2 275.9,449.8 284.8,441.0 293.7,397.9 302.6,401.7 311.5,395.0 320.4,375.8 329.3,359.3 338.2,345.4 347.1,330.6 356.0,317.2 364.9,307.5 373.8,301.7 382.7,297.7 391.6,294.7 400.5,292.3 409.4,290.7 418.3,289.4 427.2,288.2 436.1,287.0 445.0,285.8 453.9,284.6 462.8,283.5 471.7,282.5 480.6,281.6 489.5,280.6 498.4,279.7 507.3,278.7"/>
<circle cx="80.1" cy="503.0" r="5.2" fill="#000" stroke="#0a0a0a" stroke-width="1.4"/>
<circle cx="89.0" cy="434.0" r="5.2" fill="#000" stroke="#0a0a0a" stroke-width="1.4"/>
<circle cx="106.8" cy="444.0" r="5.2" fill="#000" stroke="#0a0a0a" stroke-width="1.4"/>
<circle cx="115.7" cy="425.0" r="5.2" fill="#000" stroke="#0a0a0a" stroke-width="1.4"/>
<circle cx="133.5" cy="400.0" r="5.2" fill="#000" stroke="#0a0a0a" stroke-width="1.4"/>
<circle cx="142.4" cy="478.0" r="5.2" fill="#000" stroke="#0a0a0a" stroke-width="1.4"/>
<circle cx="151.3" cy="522.0" r="5.2" fill="#000" stroke="#0a0a0a" stroke-width="1.4"/>
<circle cx="160.2" cy="442.0" r="5.2" fill="#000" stroke="#0a0a0a" stroke-width="1.4"/>
<circle cx="169.1" cy="433.0" r="5.2" fill="#000" stroke="#0a0a0a" stroke-width="1.4"/>
<circle cx="178.0" cy="422.0" r="5.2" fill="#000" stroke="#0a0a0a" stroke-width="1.4"/>
<circle cx="186.9" cy="451.0" r="5.2" fill="#000" stroke="#0a0a0a" stroke-width="1.4"/>
<circle cx="204.7" cy="412.7" r="5.2" fill="#000" stroke="#0a0a0a" stroke-width="1.4"/>
<circle cx="213.6" cy="425.0" r="5.2" fill="#000" stroke="#0a0a0a" stroke-width="1.4"/>
<circle cx="222.5" cy="431.0" r="5.2" fill="#000" stroke="#0a0a0a" stroke-width="1.4"/>
<circle cx="231.4" cy="409.8" r="5.2" fill="#000" stroke="#0a0a0a" stroke-width="1.4"/>
<circle cx="240.3" cy="445.4" r="5.2" fill="#000" stroke="#0a0a0a" stroke-width="1.4"/>
<circle cx="249.2" cy="420.4" r="5.2" fill="#000" stroke="#0a0a0a" stroke-width="1.4"/>
<circle cx="258.1" cy="408.8" r="5.2" fill="#000" stroke="#0a0a0a" stroke-width="1.4"/>
<circle cx="267.0" cy="424.2" r="5.2" fill="#000" stroke="#0a0a0a" stroke-width="1.4"/>
<circle cx="275.9" cy="449.8" r="5.2" fill="#000" stroke="#0a0a0a" stroke-width="1.4"/>
<circle cx="284.8" cy="441.0" r="5.2" fill="#000" stroke="#0a0a0a" stroke-width="1.4"/>
<circle cx="293.7" cy="397.9" r="5.2" fill="#000" stroke="#0a0a0a" stroke-width="1.4"/>
<circle cx="302.6" cy="401.7" r="5.2" fill="#000" stroke="#0a0a0a" stroke-width="1.4"/>
<circle cx="311.5" cy="395.0" r="5.2" fill="#000" stroke="#0a0a0a" stroke-width="1.4"/>
<circle cx="320.4" cy="375.8" r="5.2" fill="#000" stroke="#0a0a0a" stroke-width="1.4"/>
<circle cx="329.3" cy="359.3" r="5.2" fill="#000" stroke="#0a0a0a" stroke-width="1.4"/>
<circle cx="338.2" cy="345.4" r="5.2" fill="#000" stroke="#0a0a0a" stroke-width="1.4"/>
<circle cx="347.1" cy="330.6" r="5.2" fill="#000" stroke="#0a0a0a" stroke-width="1.4"/>
<circle cx="356.0" cy="317.2" r="5.2" fill="#000" stroke="#0a0a0a" stroke-width="1.4"/>
<circle cx="364.9" cy="307.5" r="5.2" fill="#000" stroke="#0a0a0a" stroke-width="1.4"/>
<circle cx="373.8" cy="301.7" r="5.2" fill="#000" stroke="#0a0a0a" stroke-width="1.4"/>
<circle cx="382.7" cy="297.7" r="5.2" fill="#000" stroke="#0a0a0a" stroke-width="1.4"/>
<circle cx="391.6" cy="294.7" r="5.2" fill="#000" stroke="#0a0a0a" stroke-width="1.4"/>
<circle cx="400.5" cy="292.3" r="5.2" fill="#000" stroke="#0a0a0a" stroke-width="1.4"/>
<circle cx="409.4" cy="290.7" r="5.2" fill="#000" stroke="#0a0a0a" stroke-width="1.4"/>
<circle cx="418.3" cy="289.4" r="5.2" fill="#000" stroke="#0a0a0a" stroke-width="1.4"/>
<circle cx="427.2" cy="288.2" r="5.2" fill="#000" stroke="#0a0a0a" stroke-width="1.4"/>
<circle cx="436.1" cy="287.0" r="5.2" fill="#000" stroke="#0a0a0a" stroke-width="1.4"/>
<circle cx="445.0" cy="285.8" r="5.2" fill="#000" stroke="#0a0a0a" stroke-width="1.4"/>
<circle cx="453.9" cy="284.6" r="5.2" fill="#000" stroke="#0a0a0a" stroke-width="1.4"/>
<circle cx="462.8" cy="283.5" r="5.2" fill="#000" stroke="#0a0a0a" stroke-width="1.4"/>
<circle cx="471.7" cy="282.5" r="5.2" fill="#000" stroke="#0a0a0a" stroke-width="1.4"/>
<circle cx="480.6" cy="281.6" r="5.2" fill="#000" stroke="#0a0a0a" stroke-width="1.4"/>
<circle cx="489.5" cy="280.6" r="5.2" fill="#000" stroke="#0a0a0a" stroke-width="1.4"/>
<circle cx="498.4" cy="279.7" r="5.2" fill="#000" stroke="#0a0a0a" stroke-width="1.4"/>
<circle cx="507.3" cy="278.7" r="5.2" fill="#000" stroke="#0a0a0a" stroke-width="1.4"/>
<polyline fill="none" stroke="#0a0a0a" stroke-width="1.2" points="240.3,475.0 249.2,449.0"/>
<polyline fill="none" stroke="#0a0a0a" stroke-width="1.2" points="284.8,487.3 293.7,422.9 302.6,414.0 311.5,402.7 320.4,388.0 329.3,361.7 338.2,348.0 347.1,333.4 356.0,320.2 364.9,310.5 373.8,304.9 382.7,301.1 391.6,298.3 400.5,296.1 409.4,294.7 418.3,293.6 427.2,292.6 436.1,291.6 445.0,290.6 453.9,289.6 462.8,288.5 471.7,287.8 480.6,287.0 489.5,286.2 498.4,285.5 507.3,284.7"/>
<circle cx="80.1" cy="520.0" r="5.2" fill="#000" stroke="#0a0a0a" stroke-width="1.4"/>
<circle cx="133.5" cy="411.5" r="5.2" fill="#000" stroke="#0a0a0a" stroke-width="1.4"/>
<circle cx="160.2" cy="459.0" r="5.2" fill="#000" stroke="#0a0a0a" stroke-width="1.4"/>
<circle cx="204.7" cy="429.0" r="5.2" fill="#000" stroke="#0a0a0a" stroke-width="1.4"/>
<circle cx="222.5" cy="437.7" r="5.2" fill="#000" stroke="#0a0a0a" stroke-width="1.4"/>
<circle cx="240.3" cy="475.0" r="5.2" fill="#000" stroke="#0a0a0a" stroke-width="1.4"/>
<circle cx="249.2" cy="449.0" r="5.2" fill="#000" stroke="#0a0a0a" stroke-width="1.4"/>
<circle cx="284.8" cy="487.3" r="5.2" fill="#000" stroke="#0a0a0a" stroke-width="1.4"/>
<circle cx="293.7" cy="422.9" r="5.2" fill="#000" stroke="#0a0a0a" stroke-width="1.4"/>
<circle cx="302.6" cy="414.0" r="5.2" fill="#000" stroke="#0a0a0a" stroke-width="1.4"/>
<circle cx="311.5" cy="402.7" r="5.2" fill="#000" stroke="#0a0a0a" stroke-width="1.4"/>
<circle cx="320.4" cy="388.0" r="5.2" fill="#000" stroke="#0a0a0a" stroke-width="1.4"/>
<circle cx="329.3" cy="361.7" r="5.2" fill="#000" stroke="#0a0a0a" stroke-width="1.4"/>
<circle cx="338.2" cy="348.0" r="5.2" fill="#000" stroke="#0a0a0a" stroke-width="1.4"/>
<circle cx="347.1" cy="333.4" r="5.2" fill="#000" stroke="#0a0a0a" stroke-width="1.4"/>
<circle cx="356.0" cy="320.2" r="5.2" fill="#000" stroke="#0a0a0a" stroke-width="1.4"/>
<circle cx="364.9" cy="310.5" r="5.2" fill="#000" stroke="#0a0a0a" stroke-width="1.4"/>
<circle cx="373.8" cy="304.9" r="5.2" fill="#000" stroke="#0a0a0a" stroke-width="1.4"/>
<circle cx="382.7" cy="301.1" r="5.2" fill="#000" stroke="#0a0a0a" stroke-width="1.4"/>
<circle cx="391.6" cy="298.3" r="5.2" fill="#000" stroke="#0a0a0a" stroke-width="1.4"/>
<circle cx="400.5" cy="296.1" r="5.2" fill="#000" stroke="#0a0a0a" stroke-width="1.4"/>
<circle cx="409.4" cy="294.7" r="5.2" fill="#000" stroke="#0a0a0a" stroke-width="1.4"/>
<circle cx="418.3" cy="293.6" r="5.2" fill="#000" stroke="#0a0a0a" stroke-width="1.4"/>
<circle cx="427.2" cy="292.6" r="5.2" fill="#000" stroke="#0a0a0a" stroke-width="1.4"/>
<circle cx="436.1" cy="291.6" r="5.2" fill="#000" stroke="#0a0a0a" stroke-width="1.4"/>
<circle cx="445.0" cy="290.6" r="5.2" fill="#000" stroke="#0a0a0a" stroke-width="1.4"/>
<circle cx="453.9" cy="289.6" r="5.2" fill="#000" stroke="#0a0a0a" stroke-width="1.4"/>
<circle cx="462.8" cy="288.5" r="5.2" fill="#000" stroke="#0a0a0a" stroke-width="1.4"/>
<circle cx="471.7" cy="287.8" r="5.2" fill="#000" stroke="#0a0a0a" stroke-width="1.4"/>
<circle cx="480.6" cy="287.0" r="5.2" fill="#000" stroke="#0a0a0a" stroke-width="1.4"/>
<circle cx="489.5" cy="286.2" r="5.2" fill="#000" stroke="#0a0a0a" stroke-width="1.4"/>
<circle cx="498.4" cy="285.5" r="5.2" fill="#000" stroke="#0a0a0a" stroke-width="1.4"/>
<circle cx="507.3" cy="284.7" r="5.2" fill="#000" stroke="#0a0a0a" stroke-width="1.4"/>
<polyline fill="none" stroke="#0a0a0a" stroke-width="1.2" points="71.2,427.0 80.1,479.0 89.0,477.0"/>
<polyline fill="none" stroke="#0a0a0a" stroke-width="1.2" points="106.8,437.0 115.7,419.0"/>
<polyline fill="none" stroke="#0a0a0a" stroke-width="1.2" points="133.5,450.0 142.4,425.0 151.3,425.0"/>
<polyline fill="none" stroke="#0a0a0a" stroke-width="1.2" points="169.1,490.0 178.0,440.0"/>
<polyline fill="none" stroke="#0a0a0a" stroke-width="1.2" points="195.8,480.0 204.7,455.0 213.6,442.5 222.5,465.6"/>
<polyline fill="none" stroke="#0a0a0a" stroke-width="1.2" points="275.9,466.0 284.8,470.0"/>
<polyline fill="none" stroke="#0a0a0a" stroke-width="1.2" points="320.4,456.5 329.3,490.0"/>
<polyline fill="none" stroke="#0a0a0a" stroke-width="1.2" points="356.0,393.0 364.9,377.7 373.8,364.7 382.7,358.0 391.6,354.0 400.5,351.3 409.4,348.6 418.3,347.0 427.2,346.4 436.1,345.8 445.0,345.2 453.9,344.6 462.8,344.0 471.7,343.1 480.6,342.2 489.5,341.3 498.4,340.4 507.3,339.5"/>
<rect x="66.0" y="421.8" width="10.4" height="10.4" fill="#000" stroke="#0a0a0a" stroke-width="1.4"/>
<rect x="74.9" y="473.8" width="10.4" height="10.4" fill="#000" stroke="#0a0a0a" stroke-width="1.4"/>
<rect x="83.8" y="471.8" width="10.4" height="10.4" fill="#000" stroke="#0a0a0a" stroke-width="1.4"/>
<rect x="101.6" y="431.8" width="10.4" height="10.4" fill="#000" stroke="#0a0a0a" stroke-width="1.4"/>
<rect x="110.5" y="413.8" width="10.4" height="10.4" fill="#000" stroke="#0a0a0a" stroke-width="1.4"/>
<rect x="128.3" y="444.8" width="10.4" height="10.4" fill="#000" stroke="#0a0a0a" stroke-width="1.4"/>
<rect x="137.2" y="419.8" width="10.4" height="10.4" fill="#000" stroke="#0a0a0a" stroke-width="1.4"/>
<rect x="146.1" y="419.8" width="10.4" height="10.4" fill="#000" stroke="#0a0a0a" stroke-width="1.4"/>
<rect x="163.9" y="484.8" width="10.4" height="10.4" fill="#000" stroke="#0a0a0a" stroke-width="1.4"/>
<rect x="172.8" y="434.8" width="10.4" height="10.4" fill="#000" stroke="#0a0a0a" stroke-width="1.4"/>
<rect x="190.6" y="474.8" width="10.4" height="10.4" fill="#000" stroke="#0a0a0a" stroke-width="1.4"/>
<rect x="199.5" y="449.8" width="10.4" height="10.4" fill="#000" stroke="#0a0a0a" stroke-width="1.4"/>
<rect x="208.4" y="437.3" width="10.4" height="10.4" fill="#000" stroke="#0a0a0a" stroke-width="1.4"/>
<rect x="217.3" y="460.4" width="10.4" height="10.4" fill="#000" stroke="#0a0a0a" stroke-width="1.4"/>
<rect x="235.1" y="461.3" width="10.4" height="10.4" fill="#000" stroke="#0a0a0a" stroke-width="1.4"/>
<rect x="252.9" y="434.4" width="10.4" height="10.4" fill="#000" stroke="#0a0a0a" stroke-width="1.4"/>
<rect x="270.7" y="460.8" width="10.4" height="10.4" fill="#000" stroke="#0a0a0a" stroke-width="1.4"/>
<rect x="279.6" y="464.8" width="10.4" height="10.4" fill="#000" stroke="#0a0a0a" stroke-width="1.4"/>
<rect x="315.2" y="451.3" width="10.4" height="10.4" fill="#000" stroke="#0a0a0a" stroke-width="1.4"/>
<rect x="324.1" y="484.8" width="10.4" height="10.4" fill="#000" stroke="#0a0a0a" stroke-width="1.4"/>
<rect x="350.8" y="387.8" width="10.4" height="10.4" fill="#000" stroke="#0a0a0a" stroke-width="1.4"/>
<rect x="359.7" y="372.5" width="10.4" height="10.4" fill="#000" stroke="#0a0a0a" stroke-width="1.4"/>
<rect x="368.6" y="359.5" width="10.4" height="10.4" fill="#000" stroke="#0a0a0a" stroke-width="1.4"/>
<rect x="377.5" y="352.8" width="10.4" height="10.4" fill="#000" stroke="#0a0a0a" stroke-width="1.4"/>
<rect x="386.4" y="348.8" width="10.4" height="10.4" fill="#000" stroke="#0a0a0a" stroke-width="1.4"/>
<rect x="395.3" y="346.1" width="10.4" height="10.4" fill="#000" stroke="#0a0a0a" stroke-width="1.4"/>
<rect x="404.2" y="343.4" width="10.4" height="10.4" fill="#000" stroke="#0a0a0a" stroke-width="1.4"/>
<rect x="413.1" y="341.8" width="10.4" height="10.4" fill="#000" stroke="#0a0a0a" stroke-width="1.4"/>
<rect x="422.0" y="341.2" width="10.4" height="10.4" fill="#000" stroke="#0a0a0a" stroke-width="1.4"/>
<rect x="430.9" y="340.6" width="10.4" height="10.4" fill="#000" stroke="#0a0a0a" stroke-width="1.4"/>
<rect x="439.8" y="340.0" width="10.4" height="10.4" fill="#000" stroke="#0a0a0a" stroke-width="1.4"/>
<rect x="448.7" y="339.4" width="10.4" height="10.4" fill="#000" stroke="#0a0a0a" stroke-width="1.4"/>
<rect x="457.6" y="338.8" width="10.4" height="10.4" fill="#000" stroke="#0a0a0a" stroke-width="1.4"/>
<rect x="466.5" y="337.9" width="10.4" height="10.4" fill="#000" stroke="#0a0a0a" stroke-width="1.4"/>
<rect x="475.4" y="337.0" width="10.4" height="10.4" fill="#000" stroke="#0a0a0a" stroke-width="1.4"/>
<rect x="484.3" y="336.1" width="10.4" height="10.4" fill="#000" stroke="#0a0a0a" stroke-width="1.4"/>
<rect x="493.2" y="335.2" width="10.4" height="10.4" fill="#000" stroke="#0a0a0a" stroke-width="1.4"/>
<rect x="502.1" y="334.3" width="10.4" height="10.4" fill="#000" stroke="#0a0a0a" stroke-width="1.4"/>
<polyline fill="none" stroke="#0a0a0a" stroke-width="1.2" points="71.2,436.0 80.1,435.0 89.0,508.5"/>
<polyline fill="none" stroke="#0a0a0a" stroke-width="1.2" points="356.0,413.0 364.9,377.0 373.8,370.2 382.7,363.5 391.6,359.5 400.5,356.8 409.4,354.1 418.3,352.5 427.2,351.9 436.1,351.3 445.0,350.7 453.9,350.1 462.8,349.5 471.7,348.6 480.6,347.7 489.5,346.8 498.4,345.9 507.3,345.0"/>
<rect x="66.0" y="430.8" width="10.4" height="10.4" fill="#000" stroke="#0a0a0a" stroke-width="1.4"/>
<rect x="74.9" y="429.8" width="10.4" height="10.4" fill="#000" stroke="#0a0a0a" stroke-width="1.4"/>
<rect x="83.8" y="503.3" width="10.4" height="10.4" fill="#000" stroke="#0a0a0a" stroke-width="1.4"/>
<rect x="137.2" y="463.3" width="10.4" height="10.4" fill="#000" stroke="#0a0a0a" stroke-width="1.4"/>
<rect x="172.8" y="507.8" width="10.4" height="10.4" fill="#000" stroke="#0a0a0a" stroke-width="1.4"/>
<rect x="252.9" y="471.8" width="10.4" height="10.4" fill="#000" stroke="#0a0a0a" stroke-width="1.4"/>
<rect x="350.8" y="407.8" width="10.4" height="10.4" fill="#000" stroke="#0a0a0a" stroke-width="1.4"/>
<rect x="359.7" y="371.8" width="10.4" height="10.4" fill="#000" stroke="#0a0a0a" stroke-width="1.4"/>
<rect x="368.6" y="365.0" width="10.4" height="10.4" fill="#000" stroke="#0a0a0a" stroke-width="1.4"/>
<rect x="377.5" y="358.3" width="10.4" height="10.4" fill="#000" stroke="#0a0a0a" stroke-width="1.4"/>
<rect x="386.4" y="354.3" width="10.4" height="10.4" fill="#000" stroke="#0a0a0a" stroke-width="1.4"/>
<rect x="395.3" y="351.6" width="10.4" height="10.4" fill="#000" stroke="#0a0a0a" stroke-width="1.4"/>
<rect x="404.2" y="348.9" width="10.4" height="10.4" fill="#000" stroke="#0a0a0a" stroke-width="1.4"/>
<rect x="413.1" y="347.3" width="10.4" height="10.4" fill="#000" stroke="#0a0a0a" stroke-width="1.4"/>
<rect x="422.0" y="346.7" width="10.4" height="10.4" fill="#000" stroke="#0a0a0a" stroke-width="1.4"/>
<rect x="430.9" y="346.1" width="10.4" height="10.4" fill="#000" stroke="#0a0a0a" stroke-width="1.4"/>
<rect x="439.8" y="345.5" width="10.4" height="10.4" fill="#000" stroke="#0a0a0a" stroke-width="1.4"/>
<rect x="448.7" y="344.9" width="10.4" height="10.4" fill="#000" stroke="#0a0a0a" stroke-width="1.4"/>
<rect x="457.6" y="344.3" width="10.4" height="10.4" fill="#000" stroke="#0a0a0a" stroke-width="1.4"/>
<rect x="466.5" y="343.4" width="10.4" height="10.4" fill="#000" stroke="#0a0a0a" stroke-width="1.4"/>
<rect x="475.4" y="342.5" width="10.4" height="10.4" fill="#000" stroke="#0a0a0a" stroke-width="1.4"/>
<rect x="484.3" y="341.6" width="10.4" height="10.4" fill="#000" stroke="#0a0a0a" stroke-width="1.4"/>
<rect x="493.2" y="340.7" width="10.4" height="10.4" fill="#000" stroke="#0a0a0a" stroke-width="1.4"/>
<rect x="502.1" y="339.8" width="10.4" height="10.4" fill="#000" stroke="#0a0a0a" stroke-width="1.4"/>
<polyline fill="none" stroke="#0a0a0a" stroke-width="1.2" points="356.0,393.0 364.9,387.0 373.8,383.0 382.7,380.0 391.6,377.3 400.5,375.4 409.4,377.3 418.3,379.3 427.2,377.4 436.1,374.2 445.0,371.0 453.9,370.0 462.8,370.0 471.7,371.0 480.6,366.2 489.5,365.8 498.4,370.4 507.3,366.8"/>
<rect x="66.0" y="438.8" width="10.4" height="10.4" fill="#000" stroke="#0a0a0a" stroke-width="1.4"/>
<rect x="172.8" y="447.8" width="10.4" height="10.4" fill="#000" stroke="#0a0a0a" stroke-width="1.4"/>
<rect x="350.8" y="387.8" width="10.4" height="10.4" fill="#000" stroke="#0a0a0a" stroke-width="1.4"/>
<rect x="359.7" y="381.8" width="10.4" height="10.4" fill="#000" stroke="#0a0a0a" stroke-width="1.4"/>
<rect x="368.6" y="377.8" width="10.4" height="10.4" fill="#000" stroke="#0a0a0a" stroke-width="1.4"/>
<rect x="377.5" y="374.8" width="10.4" height="10.4" fill="#000" stroke="#0a0a0a" stroke-width="1.4"/>
<rect x="386.4" y="372.1" width="10.4" height="10.4" fill="#000" stroke="#0a0a0a" stroke-width="1.4"/>
<rect x="395.3" y="370.2" width="10.4" height="10.4" fill="#000" stroke="#0a0a0a" stroke-width="1.4"/>
<rect x="404.2" y="372.1" width="10.4" height="10.4" fill="#000" stroke="#0a0a0a" stroke-width="1.4"/>
<rect x="413.1" y="374.1" width="10.4" height="10.4" fill="#000" stroke="#0a0a0a" stroke-width="1.4"/>
<rect x="422.0" y="372.2" width="10.4" height="10.4" fill="#000" stroke="#0a0a0a" stroke-width="1.4"/>
<rect x="430.9" y="369.0" width="10.4" height="10.4" fill="#000" stroke="#0a0a0a" stroke-width="1.4"/>
<rect x="439.8" y="365.8" width="10.4" height="10.4" fill="#000" stroke="#0a0a0a" stroke-width="1.4"/>
<rect x="448.7" y="364.8" width="10.4" height="10.4" fill="#000" stroke="#0a0a0a" stroke-width="1.4"/>
<rect x="457.6" y="364.8" width="10.4" height="10.4" fill="#000" stroke="#0a0a0a" stroke-width="1.4"/>
<rect x="466.5" y="365.8" width="10.4" height="10.4" fill="#000" stroke="#0a0a0a" stroke-width="1.4"/>
<rect x="475.4" y="361.0" width="10.4" height="10.4" fill="#000" stroke="#0a0a0a" stroke-width="1.4"/>
<rect x="484.3" y="360.6" width="10.4" height="10.4" fill="#000" stroke="#0a0a0a" stroke-width="1.4"/>
<rect x="493.2" y="365.2" width="10.4" height="10.4" fill="#000" stroke="#0a0a0a" stroke-width="1.4"/>
<rect x="502.1" y="361.6" width="10.4" height="10.4" fill="#000" stroke="#0a0a0a" stroke-width="1.4"/>
<polyline fill="none" stroke="#0a0a0a" stroke-width="1.2" points="338.2,436.3 347.1,427.7 356.0,412.3 364.9,400.8 373.8,392.0 382.7,385.0 391.6,378.8 400.5,376.9 409.4,378.8 418.3,380.8 427.2,378.9 436.1,375.7 445.0,372.5 453.9,371.5 462.8,371.5 471.7,372.5 480.6,367.7 489.5,367.3 498.4,371.9 507.3,368.3"/>
<rect x="333.0" y="431.1" width="10.4" height="10.4" fill="#000" stroke="#0a0a0a" stroke-width="1.4"/>
<rect x="341.9" y="422.5" width="10.4" height="10.4" fill="#000" stroke="#0a0a0a" stroke-width="1.4"/>
<rect x="350.8" y="407.1" width="10.4" height="10.4" fill="#000" stroke="#0a0a0a" stroke-width="1.4"/>
<rect x="359.7" y="395.6" width="10.4" height="10.4" fill="#000" stroke="#0a0a0a" stroke-width="1.4"/>
<rect x="368.6" y="386.8" width="10.4" height="10.4" fill="#000" stroke="#0a0a0a" stroke-width="1.4"/>
<rect x="377.5" y="379.8" width="10.4" height="10.4" fill="#000" stroke="#0a0a0a" stroke-width="1.4"/>
<rect x="386.4" y="373.6" width="10.4" height="10.4" fill="#000" stroke="#0a0a0a" stroke-width="1.4"/>
<rect x="395.3" y="371.7" width="10.4" height="10.4" fill="#000" stroke="#0a0a0a" stroke-width="1.4"/>
<rect x="404.2" y="373.6" width="10.4" height="10.4" fill="#000" stroke="#0a0a0a" stroke-width="1.4"/>
<rect x="413.1" y="375.6" width="10.4" height="10.4" fill="#000" stroke="#0a0a0a" stroke-width="1.4"/>
<rect x="422.0" y="373.7" width="10.4" height="10.4" fill="#000" stroke="#0a0a0a" stroke-width="1.4"/>
<rect x="430.9" y="370.5" width="10.4" height="10.4" fill="#000" stroke="#0a0a0a" stroke-width="1.4"/>
<rect x="439.8" y="367.3" width="10.4" height="10.4" fill="#000" stroke="#0a0a0a" stroke-width="1.4"/>
<rect x="448.7" y="366.3" width="10.4" height="10.4" fill="#000" stroke="#0a0a0a" stroke-width="1.4"/>
<rect x="457.6" y="366.3" width="10.4" height="10.4" fill="#000" stroke="#0a0a0a" stroke-width="1.4"/>
<rect x="466.5" y="367.3" width="10.4" height="10.4" fill="#000" stroke="#0a0a0a" stroke-width="1.4"/>
<rect x="475.4" y="362.5" width="10.4" height="10.4" fill="#000" stroke="#0a0a0a" stroke-width="1.4"/>
<rect x="484.3" y="362.1" width="10.4" height="10.4" fill="#000" stroke="#0a0a0a" stroke-width="1.4"/>
<rect x="493.2" y="366.7" width="10.4" height="10.4" fill="#000" stroke="#0a0a0a" stroke-width="1.4"/>
<rect x="502.1" y="363.1" width="10.4" height="10.4" fill="#000" stroke="#0a0a0a" stroke-width="1.4"/>
<rect x="77.5" y="208.5" width="105" height="113.3" fill="#fff" stroke="#222" stroke-width="1.2"/>
<circle cx="92.4" cy="220.2" r="5.2" fill="#c4c4c4" stroke="#0a0a0a" stroke-width="1.3"/>
<text x="109.3" y="225.0"  font-size="13.6" fill="#111">10<tspan dy="-5.8" dx="0.5" font-size="7.9">-1</tspan></text>
<rect x="87.3" y="231.7" width="10.2" height="10.2" fill="#c4c4c4" stroke="#0a0a0a" stroke-width="1.3"/>
<text x="109.3" y="241.7"  font-size="13.6" fill="#111">10<tspan dy="-8.2" dx="0.5" font-size="7.9">-2</tspan></text>
<path d="M92.4 250.7L97.3 260.1L87.5 260.1Z" fill="#c4c4c4" stroke="#0a0a0a" stroke-width="1.3"/>
<text x="109.3" y="259.6"  font-size="13.6" fill="#111">10<tspan dy="-7.5" dx="0.5" font-size="7.9">-3</tspan></text>
<path d="M92.4 267.6L97.4 272.6L92.4 277.6L87.4 272.6Z" fill="#c4c4c4" stroke="#0a0a0a" stroke-width="1.3"/>
<text x="109.3" y="277.5"  font-size="13.6" fill="#111">10<tspan dy="-8.5" dx="0.5" font-size="7.9">-4</tspan></text>
<circle cx="92.4" cy="291.7" r="5.2" fill="#000" stroke="#0a0a0a" stroke-width="1.3"/>
<text x="109.3" y="297.0"  font-size="14.1" fill="#111">thymus</text>
<rect x="87.3" y="304.1" width="10.2" height="10.2" fill="#000" stroke="#0a0a0a" stroke-width="1.3"/>
<text x="109.3" y="316.0"  font-size="14.1" fill="#111">normal BM</text>
<text x="0.3" y="600"  font-size="27" font-weight="bold" fill="#000">C</text>
<rect x="63" y="605.2" width="449.29999999999995" height="318.5" fill="none" stroke="#222" stroke-width="1.3"/>
<line x1="63" x2="512.3" y1="767.3" y2="767.3" stroke="#222" stroke-width="1.1"/>
<line x1="59.5" x2="63" y1="605.2" y2="605.2" stroke="#222" stroke-width="1.2"/>
<text x="47.9" y="612.7" text-anchor="end"  font-size="14" fill="#111">10</text>
<text x="48.4" y="604.6"  font-size="9.4" fill="#111">1</text>
<line x1="59.5" x2="63" y1="668.9" y2="668.9" stroke="#222" stroke-width="1.2"/>
<text x="47.9" y="676.4" text-anchor="end"  font-size="14" fill="#111">10</text>
<text x="48.4" y="668.3"  font-size="9.4" fill="#111">0</text>
<line x1="59.5" x2="63" y1="732.6" y2="732.6" stroke="#222" stroke-width="1.2"/>
<text x="47.9" y="740.1" text-anchor="end"  font-size="14" fill="#111">10</text>
<text x="48.0" y="732.0"  font-size="9.4" letter-spacing="-0.9" fill="#111">-1</text>
<line x1="59.5" x2="63" y1="796.3" y2="796.3" stroke="#222" stroke-width="1.2"/>
<text x="47.9" y="803.8" text-anchor="end"  font-size="14" fill="#111">10</text>
<text x="48.0" y="795.7"  font-size="9.4" letter-spacing="-0.9" fill="#111">-2</text>
<line x1="59.5" x2="63" y1="860.0" y2="860.0" stroke="#222" stroke-width="1.2"/>
<text x="47.9" y="867.5" text-anchor="end"  font-size="14" fill="#111">10</text>
<text x="48.0" y="859.4"  font-size="9.4" letter-spacing="-0.9" fill="#111">-3</text>
<line x1="59.5" x2="63" y1="923.7" y2="923.7" stroke="#222" stroke-width="1.2"/>
<text x="47.9" y="931.2" text-anchor="end"  font-size="14" fill="#111">10</text>
<text x="48.0" y="923.1"  font-size="9.4" letter-spacing="-0.9" fill="#111">-4</text>
<line x1="63.0" x2="63.0" y1="923.7" y2="926.7" stroke="#222" stroke-width="1.2"/>
<text x="66.2" y="944.9" text-anchor="middle"  font-size="14" fill="#111">0</text>
<line x1="152.0" x2="152.0" y1="923.7" y2="926.7" stroke="#222" stroke-width="1.2"/>
<text x="155.2" y="944.9" text-anchor="middle"  font-size="14" fill="#111">10</text>
<line x1="241.0" x2="241.0" y1="923.7" y2="926.7" stroke="#222" stroke-width="1.2"/>
<text x="244.2" y="944.9" text-anchor="middle"  font-size="14" fill="#111">20</text>
<line x1="330.0" x2="330.0" y1="923.7" y2="926.7" stroke="#222" stroke-width="1.2"/>
<text x="333.2" y="944.9" text-anchor="middle"  font-size="14" fill="#111">30</text>
<line x1="419.0" x2="419.0" y1="923.7" y2="926.7" stroke="#222" stroke-width="1.2"/>
<text x="422.2" y="944.9" text-anchor="middle"  font-size="14" fill="#111">40</text>
<line x1="508.0" x2="508.0" y1="923.7" y2="926.7" stroke="#222" stroke-width="1.2"/>
<text x="511.2" y="944.9" text-anchor="middle"  font-size="14" fill="#111">50</text>
<text x="287.8" y="965.7" text-anchor="middle"  font-size="14.2" fill="#111">PCR cycle</text>
<text transform="translate(12.1 764.2) rotate(-90)" text-anchor="middle"  font-size="14.3" fill="#111">Delta Rn</text>
<polyline fill="none" stroke="#0a0a0a" stroke-width="1.2" points="285.9,775.2 294.8,747.7 303.7,726.7 312.6,709.2 321.5,695.2 330.4,682.7 339.3,673.7 348.2,666.2 357.1,660.2 366.0,656.5 374.9,652.7 383.8,650.2 392.7,647.7 401.6,646.2 410.5,644.7 419.4,643.7 428.3,642.7 437.2,642.3 446.1,642.0 455.0,641.6 463.9,641.2 472.8,641.0 481.7,640.8 490.6,640.6 499.5,640.4 508.4,640.2"/>
<circle cx="268.1" cy="874.2" r="5.2" fill="#c4c4c4" stroke="#0a0a0a" stroke-width="1.4"/>
<circle cx="285.9" cy="775.2" r="5.2" fill="#c4c4c4" stroke="#0a0a0a" stroke-width="1.4"/>
<circle cx="294.8" cy="747.7" r="5.2" fill="#c4c4c4" stroke="#0a0a0a" stroke-width="1.4"/>
<circle cx="303.7" cy="726.7" r="5.2" fill="#c4c4c4" stroke="#0a0a0a" stroke-width="1.4"/>
<circle cx="312.6" cy="709.2" r="5.2" fill="#c4c4c4" stroke="#0a0a0a" stroke-width="1.4"/>
<circle cx="321.5" cy="695.2" r="5.2" fill="#c4c4c4" stroke="#0a0a0a" stroke-width="1.4"/>
<circle cx="330.4" cy="682.7" r="5.2" fill="#c4c4c4" stroke="#0a0a0a" stroke-width="1.4"/>
<circle cx="339.3" cy="673.7" r="5.2" fill="#c4c4c4" stroke="#0a0a0a" stroke-width="1.4"/>
<circle cx="348.2" cy="666.2" r="5.2" fill="#c4c4c4" stroke="#0a0a0a" stroke-width="1.4"/>
<circle cx="357.1" cy="660.2" r="5.2" fill="#c4c4c4" stroke="#0a0a0a" stroke-width="1.4"/>
<circle cx="366.0" cy="656.5" r="5.2" fill="#c4c4c4" stroke="#0a0a0a" stroke-width="1.4"/>
<circle cx="374.9" cy="652.7" r="5.2" fill="#c4c4c4" stroke="#0a0a0a" stroke-width="1.4"/>
<circle cx="383.8" cy="650.2" r="5.2" fill="#c4c4c4" stroke="#0a0a0a" stroke-width="1.4"/>
<circle cx="392.7" cy="647.7" r="5.2" fill="#c4c4c4" stroke="#0a0a0a" stroke-width="1.4"/>
<circle cx="401.6" cy="646.2" r="5.2" fill="#c4c4c4" stroke="#0a0a0a" stroke-width="1.4"/>
<circle cx="410.5" cy="644.7" r="5.2" fill="#c4c4c4" stroke="#0a0a0a" stroke-width="1.4"/>
<circle cx="419.4" cy="643.7" r="5.2" fill="#c4c4c4" stroke="#0a0a0a" stroke-width="1.4"/>
<circle cx="428.3" cy="642.7" r="5.2" fill="#c4c4c4" stroke="#0a0a0a" stroke-width="1.4"/>
<circle cx="437.2" cy="642.3" r="5.2" fill="#c4c4c4" stroke="#0a0a0a" stroke-width="1.4"/>
<circle cx="446.1" cy="642.0" r="5.2" fill="#c4c4c4" stroke="#0a0a0a" stroke-width="1.4"/>
<circle cx="455.0" cy="641.6" r="5.2" fill="#c4c4c4" stroke="#0a0a0a" stroke-width="1.4"/>
<circle cx="463.9" cy="641.2" r="5.2" fill="#c4c4c4" stroke="#0a0a0a" stroke-width="1.4"/>
<circle cx="472.8" cy="641.0" r="5.2" fill="#c4c4c4" stroke="#0a0a0a" stroke-width="1.4"/>
<circle cx="481.7" cy="640.8" r="5.2" fill="#c4c4c4" stroke="#0a0a0a" stroke-width="1.4"/>
<circle cx="490.6" cy="640.6" r="5.2" fill="#c4c4c4" stroke="#0a0a0a" stroke-width="1.4"/>
<circle cx="499.5" cy="640.4" r="5.2" fill="#c4c4c4" stroke="#0a0a0a" stroke-width="1.4"/>
<circle cx="508.4" cy="640.2" r="5.2" fill="#c4c4c4" stroke="#0a0a0a" stroke-width="1.4"/>
<polyline fill="none" stroke="#0a0a0a" stroke-width="1.2" points="116.8,898.2 125.7,815.7 134.6,812.7"/>
<polyline fill="none" stroke="#0a0a0a" stroke-width="1.2" points="321.5,775.7 330.4,740.3 339.3,720.3 348.2,701.7 357.1,689.1 366.0,680.0 374.9,672.5 383.8,666.4 392.7,661.3 401.6,657.3 410.5,654.7 419.4,652.1 428.3,650.8 437.2,649.5 446.1,648.2 455.0,647.0 463.9,645.8 472.8,644.9 481.7,644.0 490.6,643.1 499.5,642.3 508.4,641.4"/>
<rect x="84.9" y="842.5" width="10.4" height="10.4" fill="#c4c4c4" stroke="#0a0a0a" stroke-width="1.4"/>
<rect x="111.6" y="893.0" width="10.4" height="10.4" fill="#c4c4c4" stroke="#0a0a0a" stroke-width="1.4"/>
<rect x="120.5" y="810.5" width="10.4" height="10.4" fill="#c4c4c4" stroke="#0a0a0a" stroke-width="1.4"/>
<rect x="129.4" y="807.5" width="10.4" height="10.4" fill="#c4c4c4" stroke="#0a0a0a" stroke-width="1.4"/>
<rect x="191.7" y="859.5" width="10.4" height="10.4" fill="#c4c4c4" stroke="#0a0a0a" stroke-width="1.4"/>
<rect x="316.3" y="770.5" width="10.4" height="10.4" fill="#c4c4c4" stroke="#0a0a0a" stroke-width="1.4"/>
<rect x="325.2" y="735.1" width="10.4" height="10.4" fill="#c4c4c4" stroke="#0a0a0a" stroke-width="1.4"/>
<rect x="334.1" y="715.1" width="10.4" height="10.4" fill="#c4c4c4" stroke="#0a0a0a" stroke-width="1.4"/>
<rect x="343.0" y="696.5" width="10.4" height="10.4" fill="#c4c4c4" stroke="#0a0a0a" stroke-width="1.4"/>
<rect x="351.9" y="683.9" width="10.4" height="10.4" fill="#c4c4c4" stroke="#0a0a0a" stroke-width="1.4"/>
<rect x="360.8" y="674.8" width="10.4" height="10.4" fill="#c4c4c4" stroke="#0a0a0a" stroke-width="1.4"/>
<rect x="369.7" y="667.3" width="10.4" height="10.4" fill="#c4c4c4" stroke="#0a0a0a" stroke-width="1.4"/>
<rect x="378.6" y="661.2" width="10.4" height="10.4" fill="#c4c4c4" stroke="#0a0a0a" stroke-width="1.4"/>
<rect x="387.5" y="656.1" width="10.4" height="10.4" fill="#c4c4c4" stroke="#0a0a0a" stroke-width="1.4"/>
<rect x="396.4" y="652.1" width="10.4" height="10.4" fill="#c4c4c4" stroke="#0a0a0a" stroke-width="1.4"/>
<rect x="405.3" y="649.5" width="10.4" height="10.4" fill="#c4c4c4" stroke="#0a0a0a" stroke-width="1.4"/>
<rect x="414.2" y="646.9" width="10.4" height="10.4" fill="#c4c4c4" stroke="#0a0a0a" stroke-width="1.4"/>
<rect x="423.1" y="645.6" width="10.4" height="10.4" fill="#c4c4c4" stroke="#0a0a0a" stroke-width="1.4"/>
<rect x="432.0" y="644.3" width="10.4" height="10.4" fill="#c4c4c4" stroke="#0a0a0a" stroke-width="1.4"/>
<rect x="440.9" y="643.0" width="10.4" height="10.4" fill="#c4c4c4" stroke="#0a0a0a" stroke-width="1.4"/>
<rect x="449.8" y="641.8" width="10.4" height="10.4" fill="#c4c4c4" stroke="#0a0a0a" stroke-width="1.4"/>
<rect x="458.7" y="640.6" width="10.4" height="10.4" fill="#c4c4c4" stroke="#0a0a0a" stroke-width="1.4"/>
<rect x="467.6" y="639.7" width="10.4" height="10.4" fill="#c4c4c4" stroke="#0a0a0a" stroke-width="1.4"/>
<rect x="476.5" y="638.8" width="10.4" height="10.4" fill="#c4c4c4" stroke="#0a0a0a" stroke-width="1.4"/>
<rect x="485.4" y="637.9" width="10.4" height="10.4" fill="#c4c4c4" stroke="#0a0a0a" stroke-width="1.4"/>
<rect x="494.3" y="637.1" width="10.4" height="10.4" fill="#c4c4c4" stroke="#0a0a0a" stroke-width="1.4"/>
<rect x="503.2" y="636.2" width="10.4" height="10.4" fill="#c4c4c4" stroke="#0a0a0a" stroke-width="1.4"/>
<polyline fill="none" stroke="#0a0a0a" stroke-width="1.2" points="348.2,779.7 357.1,750.6 366.0,724.5 374.9,706.9 383.8,693.3 392.7,681.6 401.6,674.0 410.5,667.9 419.4,662.3 428.3,657.2 437.2,655.3 446.1,653.5 455.0,652.1 463.9,650.8 472.8,648.9 481.7,647.0 490.6,645.9 499.5,644.8 508.4,643.7"/>
<path d="M90.1 842.3L95.7 853.1L84.5 853.1Z" fill="#c4c4c4" stroke="#0a0a0a" stroke-width="1.4" stroke-linejoin="miter"/>
<path d="M125.7 826.3L131.3 837.1L120.1 837.1Z" fill="#c4c4c4" stroke="#0a0a0a" stroke-width="1.4" stroke-linejoin="miter"/>
<path d="M179.1 807.8L184.7 818.6L173.5 818.6Z" fill="#c4c4c4" stroke="#0a0a0a" stroke-width="1.4" stroke-linejoin="miter"/>
<path d="M348.2 773.3L353.8 784.1L342.6 784.1Z" fill="#c4c4c4" stroke="#0a0a0a" stroke-width="1.4" stroke-linejoin="miter"/>
<path d="M357.1 744.2L362.7 755.0L351.5 755.0Z" fill="#c4c4c4" stroke="#0a0a0a" stroke-width="1.4" stroke-linejoin="miter"/>
<path d="M366.0 718.1L371.6 728.9L360.4 728.9Z" fill="#c4c4c4" stroke="#0a0a0a" stroke-width="1.4" stroke-linejoin="miter"/>
<path d="M374.9 700.5L380.5 711.3L369.3 711.3Z" fill="#c4c4c4" stroke="#0a0a0a" stroke-width="1.4" stroke-linejoin="miter"/>
<path d="M383.8 686.9L389.4 697.7L378.2 697.7Z" fill="#c4c4c4" stroke="#0a0a0a" stroke-width="1.4" stroke-linejoin="miter"/>
<path d="M392.7 675.2L398.3 686.0L387.1 686.0Z" fill="#c4c4c4" stroke="#0a0a0a" stroke-width="1.4" stroke-linejoin="miter"/>
<path d="M401.6 667.6L407.2 678.4L396.0 678.4Z" fill="#c4c4c4" stroke="#0a0a0a" stroke-width="1.4" stroke-linejoin="miter"/>
<path d="M410.5 661.5L416.1 672.3L404.9 672.3Z" fill="#c4c4c4" stroke="#0a0a0a" stroke-width="1.4" stroke-linejoin="miter"/>
<path d="M419.4 655.9L425.0 666.7L413.8 666.7Z" fill="#c4c4c4" stroke="#0a0a0a" stroke-width="1.4" stroke-linejoin="miter"/>
<path d="M428.3 650.8L433.9 661.6L422.7 661.6Z" fill="#c4c4c4" stroke="#0a0a0a" stroke-width="1.4" stroke-linejoin="miter"/>
<path d="M437.2 648.9L442.8 659.7L431.6 659.7Z" fill="#c4c4c4" stroke="#0a0a0a" stroke-width="1.4" stroke-linejoin="miter"/>
<path d="M446.1 647.1L451.7 657.9L440.5 657.9Z" fill="#c4c4c4" stroke="#0a0a0a" stroke-width="1.4" stroke-linejoin="miter"/>
<path d="M455.0 645.7L460.6 656.5L449.4 656.5Z" fill="#c4c4c4" stroke="#0a0a0a" stroke-width="1.4" stroke-linejoin="miter"/>
<path d="M463.9 644.4L469.5 655.2L458.3 655.2Z" fill="#c4c4c4" stroke="#0a0a0a" stroke-width="1.4" stroke-linejoin="miter"/>
<path d="M472.8 642.5L478.4 653.3L467.2 653.3Z" fill="#c4c4c4" stroke="#0a0a0a" stroke-width="1.4" stroke-linejoin="miter"/>
<path d="M481.7 640.6L487.3 651.4L476.1 651.4Z" fill="#c4c4c4" stroke="#0a0a0a" stroke-width="1.4" stroke-linejoin="miter"/>
<path d="M490.6 639.5L496.2 650.3L485.0 650.3Z" fill="#c4c4c4" stroke="#0a0a0a" stroke-width="1.4" stroke-linejoin="miter"/>
<path d="M499.5 638.4L505.1 649.2L493.9 649.2Z" fill="#c4c4c4" stroke="#0a0a0a" stroke-width="1.4" stroke-linejoin="miter"/>
<path d="M508.4 637.3L514.0 648.1L502.8 648.1Z" fill="#c4c4c4" stroke="#0a0a0a" stroke-width="1.4" stroke-linejoin="miter"/>
<polyline fill="none" stroke="#0a0a0a" stroke-width="1.2" points="125.7,822.7 134.6,847.2 143.5,822.7 152.4,820.7"/>
<polyline fill="none" stroke="#0a0a0a" stroke-width="1.2" points="374.9,793.7 383.8,750.7 392.7,726.7 401.6,707.7 410.5,691.6 419.4,680.4 428.3,671.1 437.2,663.8 446.1,658.6 455.0,655.3 463.9,653.3 472.8,651.3 481.7,649.8 490.6,648.2 499.5,646.7 508.4,645.2"/>
<path d="M125.7 817.3L131.1 822.7L125.7 828.1L120.3 822.7Z" fill="#c4c4c4" stroke="#0a0a0a" stroke-width="1.4"/>
<path d="M134.6 841.8L140.0 847.2L134.6 852.6L129.2 847.2Z" fill="#c4c4c4" stroke="#0a0a0a" stroke-width="1.4"/>
<path d="M143.5 817.3L148.9 822.7L143.5 828.1L138.1 822.7Z" fill="#c4c4c4" stroke="#0a0a0a" stroke-width="1.4"/>
<path d="M152.4 815.3L157.8 820.7L152.4 826.1L147.0 820.7Z" fill="#c4c4c4" stroke="#0a0a0a" stroke-width="1.4"/>
<path d="M214.7 841.8L220.1 847.2L214.7 852.6L209.3 847.2Z" fill="#c4c4c4" stroke="#0a0a0a" stroke-width="1.4"/>
<path d="M374.9 788.3L380.3 793.7L374.9 799.1L369.5 793.7Z" fill="#c4c4c4" stroke="#0a0a0a" stroke-width="1.4"/>
<path d="M383.8 745.3L389.2 750.7L383.8 756.1L378.4 750.7Z" fill="#c4c4c4" stroke="#0a0a0a" stroke-width="1.4"/>
<path d="M392.7 721.3L398.1 726.7L392.7 732.1L387.3 726.7Z" fill="#c4c4c4" stroke="#0a0a0a" stroke-width="1.4"/>
<path d="M401.6 702.3L407.0 707.7L401.6 713.1L396.2 707.7Z" fill="#c4c4c4" stroke="#0a0a0a" stroke-width="1.4"/>
<path d="M410.5 686.2L415.9 691.6L410.5 697.0L405.1 691.6Z" fill="#c4c4c4" stroke="#0a0a0a" stroke-width="1.4"/>
<path d="M419.4 675.0L424.8 680.4L419.4 685.8L414.0 680.4Z" fill="#c4c4c4" stroke="#0a0a0a" stroke-width="1.4"/>
<path d="M428.3 665.7L433.7 671.1L428.3 676.5L422.9 671.1Z" fill="#c4c4c4" stroke="#0a0a0a" stroke-width="1.4"/>
<path d="M437.2 658.4L442.6 663.8L437.2 669.2L431.8 663.8Z" fill="#c4c4c4" stroke="#0a0a0a" stroke-width="1.4"/>
<path d="M446.1 653.2L451.5 658.6L446.1 664.0L440.7 658.6Z" fill="#c4c4c4" stroke="#0a0a0a" stroke-width="1.4"/>
<path d="M455.0 649.9L460.4 655.3L455.0 660.7L449.6 655.3Z" fill="#c4c4c4" stroke="#0a0a0a" stroke-width="1.4"/>
<path d="M463.9 647.9L469.3 653.3L463.9 658.7L458.5 653.3Z" fill="#c4c4c4" stroke="#0a0a0a" stroke-width="1.4"/>
<path d="M472.8 645.9L478.2 651.3L472.8 656.7L467.4 651.3Z" fill="#c4c4c4" stroke="#0a0a0a" stroke-width="1.4"/>
<path d="M481.7 644.4L487.1 649.8L481.7 655.1L476.3 649.8Z" fill="#c4c4c4" stroke="#0a0a0a" stroke-width="1.4"/>
<path d="M490.6 642.8L496.0 648.2L490.6 653.6L485.2 648.2Z" fill="#c4c4c4" stroke="#0a0a0a" stroke-width="1.4"/>
<path d="M499.5 641.3L504.9 646.7L499.5 652.1L494.1 646.7Z" fill="#c4c4c4" stroke="#0a0a0a" stroke-width="1.4"/>
<path d="M508.4 639.8L513.8 645.2L508.4 650.6L503.0 645.2Z" fill="#c4c4c4" stroke="#0a0a0a" stroke-width="1.4"/>
<polyline fill="none" stroke="#0a0a0a" stroke-width="1.2" points="125.7,845.7 134.6,830.7 143.5,835.7 152.4,840.7"/>
<polyline fill="none" stroke="#0a0a0a" stroke-width="1.2" points="419.4,845.3 428.3,743.2 437.2,715.7 446.1,695.7 455.0,680.7 463.9,671.9 472.8,665.5 481.7,660.2 490.6,655.9 499.5,651.5 508.4,647.7"/>
<path d="M67.0 824.9L77.6 836.5M77.6 824.9L67.0 836.5" fill="none" stroke="#0a0a0a" stroke-width="1.45"/>
<path d="M120.4 839.9L131.0 851.5M131.0 839.9L120.4 851.5" fill="none" stroke="#0a0a0a" stroke-width="1.45"/>
<path d="M129.3 824.9L139.9 836.5M139.9 824.9L129.3 836.5" fill="none" stroke="#0a0a0a" stroke-width="1.45"/>
<path d="M138.2 829.9L148.8 841.5M148.8 829.9L138.2 841.5" fill="none" stroke="#0a0a0a" stroke-width="1.45"/>
<path d="M147.1 834.9L157.7 846.5M157.7 834.9L147.1 846.5" fill="none" stroke="#0a0a0a" stroke-width="1.45"/>
<path d="M414.1 839.5L424.7 851.1M424.7 839.5L414.1 851.1" fill="none" stroke="#0a0a0a" stroke-width="1.45"/>
<path d="M423.0 737.4L433.6 749.0M433.6 737.4L423.0 749.0" fill="none" stroke="#0a0a0a" stroke-width="1.45"/>
<path d="M431.9 709.9L442.5 721.5M442.5 709.9L431.9 721.5" fill="none" stroke="#0a0a0a" stroke-width="1.45"/>
<path d="M440.8 689.9L451.4 701.5M451.4 689.9L440.8 701.5" fill="none" stroke="#0a0a0a" stroke-width="1.45"/>
<path d="M449.7 674.9L460.3 686.5M460.3 674.9L449.7 686.5" fill="none" stroke="#0a0a0a" stroke-width="1.45"/>
<path d="M458.6 666.1L469.2 677.7M469.2 666.1L458.6 677.7" fill="none" stroke="#0a0a0a" stroke-width="1.45"/>
<path d="M467.5 659.7L478.1 671.3M478.1 659.7L467.5 671.3" fill="none" stroke="#0a0a0a" stroke-width="1.45"/>
<path d="M476.4 654.4L487.0 666.0M487.0 654.4L476.4 666.0" fill="none" stroke="#0a0a0a" stroke-width="1.45"/>
<path d="M485.3 650.1L495.9 661.7M495.9 650.1L485.3 661.7" fill="none" stroke="#0a0a0a" stroke-width="1.45"/>
<path d="M494.2 645.7L504.8 657.3M504.8 645.7L494.2 657.3" fill="none" stroke="#0a0a0a" stroke-width="1.45"/>
<path d="M503.1 641.9L513.7 653.5M513.7 641.9L503.1 653.5" fill="none" stroke="#0a0a0a" stroke-width="1.45"/>
<polyline fill="none" stroke="#0a0a0a" stroke-width="1.2" points="72.3,799.7 81.2,897.2"/>
<polyline fill="none" stroke="#0a0a0a" stroke-width="1.2" points="99.0,914.2 107.9,808.2"/>
<polyline fill="none" stroke="#0a0a0a" stroke-width="1.2" points="143.5,839.2 152.4,815.7 161.3,860.7 170.2,801.7"/>
<polyline fill="none" stroke="#0a0a0a" stroke-width="1.2" points="196.9,825.7 205.8,826.7 214.7,911.7"/>
<polyline fill="none" stroke="#0a0a0a" stroke-width="1.2" points="259.2,814.7 268.1,788.7 277.0,806.7 285.9,773.2 294.8,745.7 303.7,724.7 312.6,707.2 321.5,693.2 330.4,680.7 339.3,671.7 348.2,664.2 357.1,658.2 366.0,654.5 374.9,650.7 383.8,648.2 392.7,645.7 401.6,644.2 410.5,642.7 419.4,641.7 428.3,640.7 437.2,640.3 446.1,640.0 455.0,639.6 463.9,639.2 472.8,639.0 481.7,638.8 490.6,638.6 499.5,638.4 508.4,638.2"/>
<circle cx="72.3" cy="799.7" r="5.2" fill="#c4c4c4" stroke="#0a0a0a" stroke-width="1.4"/>
<circle cx="81.2" cy="897.2" r="5.2" fill="#c4c4c4" stroke="#0a0a0a" stroke-width="1.4"/>
<circle cx="99.0" cy="914.2" r="5.2" fill="#c4c4c4" stroke="#0a0a0a" stroke-width="1.4"/>
<circle cx="107.9" cy="808.2" r="5.2" fill="#c4c4c4" stroke="#0a0a0a" stroke-width="1.4"/>
<circle cx="125.7" cy="799.7" r="5.2" fill="#c4c4c4" stroke="#0a0a0a" stroke-width="1.4"/>
<circle cx="143.5" cy="839.2" r="5.2" fill="#c4c4c4" stroke="#0a0a0a" stroke-width="1.4"/>
<circle cx="152.4" cy="815.7" r="5.2" fill="#c4c4c4" stroke="#0a0a0a" stroke-width="1.4"/>
<circle cx="161.3" cy="860.7" r="5.2" fill="#c4c4c4" stroke="#0a0a0a" stroke-width="1.4"/>
<circle cx="170.2" cy="801.7" r="5.2" fill="#c4c4c4" stroke="#0a0a0a" stroke-width="1.4"/>
<circle cx="196.9" cy="825.7" r="5.2" fill="#c4c4c4" stroke="#0a0a0a" stroke-width="1.4"/>
<circle cx="205.8" cy="826.7" r="5.2" fill="#c4c4c4" stroke="#0a0a0a" stroke-width="1.4"/>
<circle cx="214.7" cy="911.7" r="5.2" fill="#c4c4c4" stroke="#0a0a0a" stroke-width="1.4"/>
<circle cx="259.2" cy="814.7" r="5.2" fill="#c4c4c4" stroke="#0a0a0a" stroke-width="1.4"/>
<circle cx="268.1" cy="788.7" r="5.2" fill="#c4c4c4" stroke="#0a0a0a" stroke-width="1.4"/>
<circle cx="277.0" cy="806.7" r="5.2" fill="#c4c4c4" stroke="#0a0a0a" stroke-width="1.4"/>
<circle cx="285.9" cy="773.2" r="5.2" fill="#c4c4c4" stroke="#0a0a0a" stroke-width="1.4"/>
<circle cx="294.8" cy="745.7" r="5.2" fill="#c4c4c4" stroke="#0a0a0a" stroke-width="1.4"/>
<circle cx="303.7" cy="724.7" r="5.2" fill="#c4c4c4" stroke="#0a0a0a" stroke-width="1.4"/>
<circle cx="312.6" cy="707.2" r="5.2" fill="#c4c4c4" stroke="#0a0a0a" stroke-width="1.4"/>
<circle cx="321.5" cy="693.2" r="5.2" fill="#c4c4c4" stroke="#0a0a0a" stroke-width="1.4"/>
<circle cx="330.4" cy="680.7" r="5.2" fill="#c4c4c4" stroke="#0a0a0a" stroke-width="1.4"/>
<circle cx="339.3" cy="671.7" r="5.2" fill="#c4c4c4" stroke="#0a0a0a" stroke-width="1.4"/>
<circle cx="348.2" cy="664.2" r="5.2" fill="#c4c4c4" stroke="#0a0a0a" stroke-width="1.4"/>
<circle cx="357.1" cy="658.2" r="5.2" fill="#c4c4c4" stroke="#0a0a0a" stroke-width="1.4"/>
<circle cx="366.0" cy="654.5" r="5.2" fill="#c4c4c4" stroke="#0a0a0a" stroke-width="1.4"/>
<circle cx="374.9" cy="650.7" r="5.2" fill="#c4c4c4" stroke="#0a0a0a" stroke-width="1.4"/>
<circle cx="383.8" cy="648.2" r="5.2" fill="#c4c4c4" stroke="#0a0a0a" stroke-width="1.4"/>
<circle cx="392.7" cy="645.7" r="5.2" fill="#c4c4c4" stroke="#0a0a0a" stroke-width="1.4"/>
<circle cx="401.6" cy="644.2" r="5.2" fill="#c4c4c4" stroke="#0a0a0a" stroke-width="1.4"/>
<circle cx="410.5" cy="642.7" r="5.2" fill="#c4c4c4" stroke="#0a0a0a" stroke-width="1.4"/>
<circle cx="419.4" cy="641.7" r="5.2" fill="#c4c4c4" stroke="#0a0a0a" stroke-width="1.4"/>
<circle cx="428.3" cy="640.7" r="5.2" fill="#c4c4c4" stroke="#0a0a0a" stroke-width="1.4"/>
<circle cx="437.2" cy="640.3" r="5.2" fill="#c4c4c4" stroke="#0a0a0a" stroke-width="1.4"/>
<circle cx="446.1" cy="640.0" r="5.2" fill="#c4c4c4" stroke="#0a0a0a" stroke-width="1.4"/>
<circle cx="455.0" cy="639.6" r="5.2" fill="#c4c4c4" stroke="#0a0a0a" stroke-width="1.4"/>
<circle cx="463.9" cy="639.2" r="5.2" fill="#c4c4c4" stroke="#0a0a0a" stroke-width="1.4"/>
<circle cx="472.8" cy="639.0" r="5.2" fill="#c4c4c4" stroke="#0a0a0a" stroke-width="1.4"/>
<circle cx="481.7" cy="638.8" r="5.2" fill="#c4c4c4" stroke="#0a0a0a" stroke-width="1.4"/>
<circle cx="490.6" cy="638.6" r="5.2" fill="#c4c4c4" stroke="#0a0a0a" stroke-width="1.4"/>
<circle cx="499.5" cy="638.4" r="5.2" fill="#c4c4c4" stroke="#0a0a0a" stroke-width="1.4"/>
<circle cx="508.4" cy="638.2" r="5.2" fill="#c4c4c4" stroke="#0a0a0a" stroke-width="1.4"/>
<polyline fill="none" stroke="#0a0a0a" stroke-width="1.2" points="116.8,844.7 125.7,843.2 134.6,815.7 143.5,923.7 152.4,824.7"/>
<polyline fill="none" stroke="#0a0a0a" stroke-width="1.2" points="170.2,833.2 179.1,833.2 188.0,908.2 196.9,833.2"/>
<polyline fill="none" stroke="#0a0a0a" stroke-width="1.2" points="312.6,842.2 321.5,759.7 330.4,736.7 339.3,716.7 348.2,698.2 357.1,685.7 366.0,676.7 374.9,669.2 383.8,663.2 392.7,658.2 401.6,654.2 410.5,651.7 419.4,649.2 428.3,648.0 437.2,646.7 446.1,645.5 455.0,644.4 463.9,643.2 472.8,642.4 481.7,641.6 490.6,640.8 499.5,640.0 508.4,639.2"/>
<rect x="67.1" y="838.0" width="10.4" height="10.4" fill="#c4c4c4" stroke="#0a0a0a" stroke-width="1.4"/>
<rect x="93.8" y="815.5" width="10.4" height="10.4" fill="#c4c4c4" stroke="#0a0a0a" stroke-width="1.4"/>
<rect x="111.6" y="839.5" width="10.4" height="10.4" fill="#c4c4c4" stroke="#0a0a0a" stroke-width="1.4"/>
<rect x="120.5" y="838.0" width="10.4" height="10.4" fill="#c4c4c4" stroke="#0a0a0a" stroke-width="1.4"/>
<rect x="129.4" y="810.5" width="10.4" height="10.4" fill="#c4c4c4" stroke="#0a0a0a" stroke-width="1.4"/>
<rect x="138.3" y="918.5" width="10.4" height="10.4" fill="#c4c4c4" stroke="#0a0a0a" stroke-width="1.4"/>
<rect x="147.2" y="819.5" width="10.4" height="10.4" fill="#c4c4c4" stroke="#0a0a0a" stroke-width="1.4"/>
<rect x="165.0" y="828.0" width="10.4" height="10.4" fill="#c4c4c4" stroke="#0a0a0a" stroke-width="1.4"/>
<rect x="173.9" y="828.0" width="10.4" height="10.4" fill="#c4c4c4" stroke="#0a0a0a" stroke-width="1.4"/>
<rect x="182.8" y="903.0" width="10.4" height="10.4" fill="#c4c4c4" stroke="#0a0a0a" stroke-width="1.4"/>
<rect x="191.7" y="828.0" width="10.4" height="10.4" fill="#c4c4c4" stroke="#0a0a0a" stroke-width="1.4"/>
<rect x="307.4" y="837.0" width="10.4" height="10.4" fill="#c4c4c4" stroke="#0a0a0a" stroke-width="1.4"/>
<rect x="316.3" y="754.5" width="10.4" height="10.4" fill="#c4c4c4" stroke="#0a0a0a" stroke-width="1.4"/>
<rect x="325.2" y="731.5" width="10.4" height="10.4" fill="#c4c4c4" stroke="#0a0a0a" stroke-width="1.4"/>
<rect x="334.1" y="711.5" width="10.4" height="10.4" fill="#c4c4c4" stroke="#0a0a0a" stroke-width="1.4"/>
<rect x="343.0" y="693.0" width="10.4" height="10.4" fill="#c4c4c4" stroke="#0a0a0a" stroke-width="1.4"/>
<rect x="351.9" y="680.5" width="10.4" height="10.4" fill="#c4c4c4" stroke="#0a0a0a" stroke-width="1.4"/>
<rect x="360.8" y="671.5" width="10.4" height="10.4" fill="#c4c4c4" stroke="#0a0a0a" stroke-width="1.4"/>
<rect x="369.7" y="664.0" width="10.4" height="10.4" fill="#c4c4c4" stroke="#0a0a0a" stroke-width="1.4"/>
<rect x="378.6" y="658.0" width="10.4" height="10.4" fill="#c4c4c4" stroke="#0a0a0a" stroke-width="1.4"/>
<rect x="387.5" y="653.0" width="10.4" height="10.4" fill="#c4c4c4" stroke="#0a0a0a" stroke-width="1.4"/>
<rect x="396.4" y="649.0" width="10.4" height="10.4" fill="#c4c4c4" stroke="#0a0a0a" stroke-width="1.4"/>
<rect x="405.3" y="646.5" width="10.4" height="10.4" fill="#c4c4c4" stroke="#0a0a0a" stroke-width="1.4"/>
<rect x="414.2" y="644.0" width="10.4" height="10.4" fill="#c4c4c4" stroke="#0a0a0a" stroke-width="1.4"/>
<rect x="423.1" y="642.8" width="10.4" height="10.4" fill="#c4c4c4" stroke="#0a0a0a" stroke-width="1.4"/>
<rect x="432.0" y="641.5" width="10.4" height="10.4" fill="#c4c4c4" stroke="#0a0a0a" stroke-width="1.4"/>
<rect x="440.9" y="640.3" width="10.4" height="10.4" fill="#c4c4c4" stroke="#0a0a0a" stroke-width="1.4"/>
<rect x="449.8" y="639.2" width="10.4" height="10.4" fill="#c4c4c4" stroke="#0a0a0a" stroke-width="1.4"/>
<rect x="458.7" y="638.0" width="10.4" height="10.4" fill="#c4c4c4" stroke="#0a0a0a" stroke-width="1.4"/>
<rect x="467.6" y="637.2" width="10.4" height="10.4" fill="#c4c4c4" stroke="#0a0a0a" stroke-width="1.4"/>
<rect x="476.5" y="636.4" width="10.4" height="10.4" fill="#c4c4c4" stroke="#0a0a0a" stroke-width="1.4"/>
<rect x="485.4" y="635.6" width="10.4" height="10.4" fill="#c4c4c4" stroke="#0a0a0a" stroke-width="1.4"/>
<rect x="494.3" y="634.8" width="10.4" height="10.4" fill="#c4c4c4" stroke="#0a0a0a" stroke-width="1.4"/>
<rect x="503.2" y="634.0" width="10.4" height="10.4" fill="#c4c4c4" stroke="#0a0a0a" stroke-width="1.4"/>
<polyline fill="none" stroke="#0a0a0a" stroke-width="1.2" points="72.3,818.2 81.2,819.7 90.1,834.7 99.0,839.2"/>
<polyline fill="none" stroke="#0a0a0a" stroke-width="1.2" points="116.8,820.7 125.7,815.7 134.6,827.7"/>
<polyline fill="none" stroke="#0a0a0a" stroke-width="1.2" points="161.3,827.7 170.2,898.2 179.1,851.7 188.0,818.2"/>
<polyline fill="none" stroke="#0a0a0a" stroke-width="1.2" points="339.3,829.7 348.2,774.7 357.1,746.7 366.0,720.7 374.9,703.2 383.8,689.7 392.7,678.2 401.6,670.7 410.5,664.7 419.4,659.2 428.3,654.2 437.2,652.5 446.1,650.7 455.0,649.5 463.9,648.2 472.8,646.5 481.7,644.7 490.6,643.7 499.5,642.7 508.4,641.7"/>
<path d="M72.3 811.8L77.9 822.6L66.7 822.6Z" fill="#c4c4c4" stroke="#0a0a0a" stroke-width="1.4" stroke-linejoin="miter"/>
<path d="M81.2 813.3L86.8 824.1L75.6 824.1Z" fill="#c4c4c4" stroke="#0a0a0a" stroke-width="1.4" stroke-linejoin="miter"/>
<path d="M90.1 828.3L95.7 839.1L84.5 839.1Z" fill="#c4c4c4" stroke="#0a0a0a" stroke-width="1.4" stroke-linejoin="miter"/>
<path d="M99.0 832.8L104.6 843.6L93.4 843.6Z" fill="#c4c4c4" stroke="#0a0a0a" stroke-width="1.4" stroke-linejoin="miter"/>
<path d="M116.8 814.3L122.4 825.1L111.2 825.1Z" fill="#c4c4c4" stroke="#0a0a0a" stroke-width="1.4" stroke-linejoin="miter"/>
<path d="M125.7 809.3L131.3 820.1L120.1 820.1Z" fill="#c4c4c4" stroke="#0a0a0a" stroke-width="1.4" stroke-linejoin="miter"/>
<path d="M134.6 821.3L140.2 832.1L129.0 832.1Z" fill="#c4c4c4" stroke="#0a0a0a" stroke-width="1.4" stroke-linejoin="miter"/>
<path d="M161.3 821.3L166.9 832.1L155.7 832.1Z" fill="#c4c4c4" stroke="#0a0a0a" stroke-width="1.4" stroke-linejoin="miter"/>
<path d="M170.2 891.8L175.8 902.6L164.6 902.6Z" fill="#c4c4c4" stroke="#0a0a0a" stroke-width="1.4" stroke-linejoin="miter"/>
<path d="M179.1 845.3L184.7 856.1L173.5 856.1Z" fill="#c4c4c4" stroke="#0a0a0a" stroke-width="1.4" stroke-linejoin="miter"/>
<path d="M188.0 811.8L193.6 822.6L182.4 822.6Z" fill="#c4c4c4" stroke="#0a0a0a" stroke-width="1.4" stroke-linejoin="miter"/>
<path d="M205.8 845.3L211.4 856.1L200.2 856.1Z" fill="#c4c4c4" stroke="#0a0a0a" stroke-width="1.4" stroke-linejoin="miter"/>
<path d="M241.4 850.3L247.0 861.1L235.8 861.1Z" fill="#c4c4c4" stroke="#0a0a0a" stroke-width="1.4" stroke-linejoin="miter"/>
<path d="M339.3 823.3L344.9 834.1L333.7 834.1Z" fill="#c4c4c4" stroke="#0a0a0a" stroke-width="1.4" stroke-linejoin="miter"/>
<path d="M348.2 768.3L353.8 779.1L342.6 779.1Z" fill="#c4c4c4" stroke="#0a0a0a" stroke-width="1.4" stroke-linejoin="miter"/>
<path d="M357.1 740.3L362.7 751.1L351.5 751.1Z" fill="#c4c4c4" stroke="#0a0a0a" stroke-width="1.4" stroke-linejoin="miter"/>
<path d="M366.0 714.3L371.6 725.1L360.4 725.1Z" fill="#c4c4c4" stroke="#0a0a0a" stroke-width="1.4" stroke-linejoin="miter"/>
<path d="M374.9 696.8L380.5 707.6L369.3 707.6Z" fill="#c4c4c4" stroke="#0a0a0a" stroke-width="1.4" stroke-linejoin="miter"/>
<path d="M383.8 683.3L389.4 694.1L378.2 694.1Z" fill="#c4c4c4" stroke="#0a0a0a" stroke-width="1.4" stroke-linejoin="miter"/>
<path d="M392.7 671.8L398.3 682.6L387.1 682.6Z" fill="#c4c4c4" stroke="#0a0a0a" stroke-width="1.4" stroke-linejoin="miter"/>
<path d="M401.6 664.3L407.2 675.1L396.0 675.1Z" fill="#c4c4c4" stroke="#0a0a0a" stroke-width="1.4" stroke-linejoin="miter"/>
<path d="M410.5 658.3L416.1 669.1L404.9 669.1Z" fill="#c4c4c4" stroke="#0a0a0a" stroke-width="1.4" stroke-linejoin="miter"/>
<path d="M419.4 652.8L425.0 663.6L413.8 663.6Z" fill="#c4c4c4" stroke="#0a0a0a" stroke-width="1.4" stroke-linejoin="miter"/>
<path d="M428.3 647.8L433.9 658.6L422.7 658.6Z" fill="#c4c4c4" stroke="#0a0a0a" stroke-width="1.4" stroke-linejoin="miter"/>
<path d="M437.2 646.1L442.8 656.9L431.6 656.9Z" fill="#c4c4c4" stroke="#0a0a0a" stroke-width="1.4" stroke-linejoin="miter"/>
<path d="M446.1 644.3L451.7 655.1L440.5 655.1Z" fill="#c4c4c4" stroke="#0a0a0a" stroke-width="1.4" stroke-linejoin="miter"/>
<path d="M455.0 643.1L460.6 653.9L449.4 653.9Z" fill="#c4c4c4" stroke="#0a0a0a" stroke-width="1.4" stroke-linejoin="miter"/>
<path d="M463.9 641.8L469.5 652.6L458.3 652.6Z" fill="#c4c4c4" stroke="#0a0a0a" stroke-width="1.4" stroke-linejoin="miter"/>
<path d="M472.8 640.1L478.4 650.9L467.2 650.9Z" fill="#c4c4c4" stroke="#0a0a0a" stroke-width="1.4" stroke-linejoin="miter"/>
<path d="M481.7 638.3L487.3 649.1L476.1 649.1Z" fill="#c4c4c4" stroke="#0a0a0a" stroke-width="1.4" stroke-linejoin="miter"/>
<path d="M490.6 637.3L496.2 648.1L485.0 648.1Z" fill="#c4c4c4" stroke="#0a0a0a" stroke-width="1.4" stroke-linejoin="miter"/>
<path d="M499.5 636.3L505.1 647.1L493.9 647.1Z" fill="#c4c4c4" stroke="#0a0a0a" stroke-width="1.4" stroke-linejoin="miter"/>
<path d="M508.4 635.3L514.0 646.1L502.8 646.1Z" fill="#c4c4c4" stroke="#0a0a0a" stroke-width="1.4" stroke-linejoin="miter"/>
<polyline fill="none" stroke="#0a0a0a" stroke-width="1.2" points="107.9,833.2 116.8,823.2 125.7,830.7 134.6,803.2 143.5,818.2 152.4,848.2 161.3,839.2 170.2,818.2 179.1,814.2 188.0,805.7 196.9,880.7 205.8,868.2 214.7,808.2 223.6,876.7"/>
<polyline fill="none" stroke="#0a0a0a" stroke-width="1.2" points="366.0,865.7 374.9,774.7 383.8,743.2 392.7,720.7 401.6,702.2 410.5,686.7 419.4,675.7 428.3,666.7 437.2,659.7 446.1,654.7 455.0,651.7 463.9,650.0 472.8,648.2 481.7,647.0 490.6,645.7 499.5,644.5 508.4,643.2"/>
<path d="M107.9 827.8L113.3 833.2L107.9 838.6L102.5 833.2Z" fill="#c4c4c4" stroke="#0a0a0a" stroke-width="1.4"/>
<path d="M116.8 817.8L122.2 823.2L116.8 828.6L111.4 823.2Z" fill="#c4c4c4" stroke="#0a0a0a" stroke-width="1.4"/>
<path d="M125.7 825.3L131.1 830.7L125.7 836.1L120.3 830.7Z" fill="#c4c4c4" stroke="#0a0a0a" stroke-width="1.4"/>
<path d="M134.6 797.8L140.0 803.2L134.6 808.6L129.2 803.2Z" fill="#c4c4c4" stroke="#0a0a0a" stroke-width="1.4"/>
<path d="M143.5 812.8L148.9 818.2L143.5 823.6L138.1 818.2Z" fill="#c4c4c4" stroke="#0a0a0a" stroke-width="1.4"/>
<path d="M152.4 842.8L157.8 848.2L152.4 853.6L147.0 848.2Z" fill="#c4c4c4" stroke="#0a0a0a" stroke-width="1.4"/>
<path d="M161.3 833.8L166.7 839.2L161.3 844.6L155.9 839.2Z" fill="#c4c4c4" stroke="#0a0a0a" stroke-width="1.4"/>
<path d="M170.2 812.8L175.6 818.2L170.2 823.6L164.8 818.2Z" fill="#c4c4c4" stroke="#0a0a0a" stroke-width="1.4"/>
<path d="M179.1 808.8L184.5 814.2L179.1 819.6L173.7 814.2Z" fill="#c4c4c4" stroke="#0a0a0a" stroke-width="1.4"/>
<path d="M188.0 800.3L193.4 805.7L188.0 811.1L182.6 805.7Z" fill="#c4c4c4" stroke="#0a0a0a" stroke-width="1.4"/>
<path d="M196.9 875.3L202.3 880.7L196.9 886.1L191.5 880.7Z" fill="#c4c4c4" stroke="#0a0a0a" stroke-width="1.4"/>
<path d="M205.8 862.8L211.2 868.2L205.8 873.6L200.4 868.2Z" fill="#c4c4c4" stroke="#0a0a0a" stroke-width="1.4"/>
<path d="M214.7 802.8L220.1 808.2L214.7 813.6L209.3 808.2Z" fill="#c4c4c4" stroke="#0a0a0a" stroke-width="1.4"/>
<path d="M223.6 871.3L229.0 876.7L223.6 882.1L218.2 876.7Z" fill="#c4c4c4" stroke="#0a0a0a" stroke-width="1.4"/>
<path d="M366.0 860.3L371.4 865.7L366.0 871.1L360.6 865.7Z" fill="#c4c4c4" stroke="#0a0a0a" stroke-width="1.4"/>
<path d="M374.9 769.3L380.3 774.7L374.9 780.1L369.5 774.7Z" fill="#c4c4c4" stroke="#0a0a0a" stroke-width="1.4"/>
<path d="M383.8 737.8L389.2 743.2L383.8 748.6L378.4 743.2Z" fill="#c4c4c4" stroke="#0a0a0a" stroke-width="1.4"/>
<path d="M392.7 715.3L398.1 720.7L392.7 726.1L387.3 720.7Z" fill="#c4c4c4" stroke="#0a0a0a" stroke-width="1.4"/>
<path d="M401.6 696.8L407.0 702.2L401.6 707.6L396.2 702.2Z" fill="#c4c4c4" stroke="#0a0a0a" stroke-width="1.4"/>
<path d="M410.5 681.3L415.9 686.7L410.5 692.1L405.1 686.7Z" fill="#c4c4c4" stroke="#0a0a0a" stroke-width="1.4"/>
<path d="M419.4 670.3L424.8 675.7L419.4 681.1L414.0 675.7Z" fill="#c4c4c4" stroke="#0a0a0a" stroke-width="1.4"/>
<path d="M428.3 661.3L433.7 666.7L428.3 672.1L422.9 666.7Z" fill="#c4c4c4" stroke="#0a0a0a" stroke-width="1.4"/>
<path d="M437.2 654.3L442.6 659.7L437.2 665.1L431.8 659.7Z" fill="#c4c4c4" stroke="#0a0a0a" stroke-width="1.4"/>
<path d="M446.1 649.3L451.5 654.7L446.1 660.1L440.7 654.7Z" fill="#c4c4c4" stroke="#0a0a0a" stroke-width="1.4"/>
<path d="M455.0 646.3L460.4 651.7L455.0 657.1L449.6 651.7Z" fill="#c4c4c4" stroke="#0a0a0a" stroke-width="1.4"/>
<path d="M463.9 644.6L469.3 650.0L463.9 655.4L458.5 650.0Z" fill="#c4c4c4" stroke="#0a0a0a" stroke-width="1.4"/>
<path d="M472.8 642.8L478.2 648.2L472.8 653.6L467.4 648.2Z" fill="#c4c4c4" stroke="#0a0a0a" stroke-width="1.4"/>
<path d="M481.7 641.6L487.1 647.0L481.7 652.4L476.3 647.0Z" fill="#c4c4c4" stroke="#0a0a0a" stroke-width="1.4"/>
<path d="M490.6 640.3L496.0 645.7L490.6 651.1L485.2 645.7Z" fill="#c4c4c4" stroke="#0a0a0a" stroke-width="1.4"/>
<path d="M499.5 639.1L504.9 644.5L499.5 649.9L494.1 644.5Z" fill="#c4c4c4" stroke="#0a0a0a" stroke-width="1.4"/>
<path d="M508.4 637.8L513.8 643.2L508.4 648.6L503.0 643.2Z" fill="#c4c4c4" stroke="#0a0a0a" stroke-width="1.4"/>
<polyline fill="none" stroke="#0a0a0a" stroke-width="1.2" points="90.1,842.7 99.0,805.7 107.9,848.2 116.8,828.7 125.7,835.7 134.6,806.7 143.5,803.2 152.4,923.2 161.3,898.2"/>
<polyline fill="none" stroke="#0a0a0a" stroke-width="1.2" points="419.4,756.7 428.3,728.7 437.2,703.2 446.1,687.2 455.0,675.7 463.9,668.2 472.8,662.2 481.7,657.2 490.6,653.2 499.5,649.2 508.4,645.7"/>
<path d="M67.0 814.9L77.6 826.5M77.6 814.9L67.0 826.5" fill="none" stroke="#0a0a0a" stroke-width="1.45"/>
<path d="M84.8 836.9L95.4 848.5M95.4 836.9L84.8 848.5" fill="none" stroke="#0a0a0a" stroke-width="1.45"/>
<path d="M93.7 799.9L104.3 811.5M104.3 799.9L93.7 811.5" fill="none" stroke="#0a0a0a" stroke-width="1.45"/>
<path d="M102.6 842.4L113.2 854.0M113.2 842.4L102.6 854.0" fill="none" stroke="#0a0a0a" stroke-width="1.45"/>
<path d="M111.5 822.9L122.1 834.5M122.1 822.9L111.5 834.5" fill="none" stroke="#0a0a0a" stroke-width="1.45"/>
<path d="M120.4 829.9L131.0 841.5M131.0 829.9L120.4 841.5" fill="none" stroke="#0a0a0a" stroke-width="1.45"/>
<path d="M129.3 800.9L139.9 812.5M139.9 800.9L129.3 812.5" fill="none" stroke="#0a0a0a" stroke-width="1.45"/>
<path d="M138.2 797.4L148.8 809.0M148.8 797.4L138.2 809.0" fill="none" stroke="#0a0a0a" stroke-width="1.45"/>
<path d="M147.1 917.4L157.7 929.0M157.7 917.4L147.1 929.0" fill="none" stroke="#0a0a0a" stroke-width="1.45"/>
<path d="M156.0 892.4L166.6 904.0M166.6 892.4L156.0 904.0" fill="none" stroke="#0a0a0a" stroke-width="1.45"/>
<path d="M414.1 750.9L424.7 762.5M424.7 750.9L414.1 762.5" fill="none" stroke="#0a0a0a" stroke-width="1.45"/>
<path d="M423.0 722.9L433.6 734.5M433.6 722.9L423.0 734.5" fill="none" stroke="#0a0a0a" stroke-width="1.45"/>
<path d="M431.9 697.4L442.5 709.0M442.5 697.4L431.9 709.0" fill="none" stroke="#0a0a0a" stroke-width="1.45"/>
<path d="M440.8 681.4L451.4 693.0M451.4 681.4L440.8 693.0" fill="none" stroke="#0a0a0a" stroke-width="1.45"/>
<path d="M449.7 669.9L460.3 681.5M460.3 669.9L449.7 681.5" fill="none" stroke="#0a0a0a" stroke-width="1.45"/>
<path d="M458.6 662.4L469.2 674.0M469.2 662.4L458.6 674.0" fill="none" stroke="#0a0a0a" stroke-width="1.45"/>
<path d="M467.5 656.4L478.1 668.0M478.1 656.4L467.5 668.0" fill="none" stroke="#0a0a0a" stroke-width="1.45"/>
<path d="M476.4 651.4L487.0 663.0M487.0 651.4L476.4 663.0" fill="none" stroke="#0a0a0a" stroke-width="1.45"/>
<path d="M485.3 647.4L495.9 659.0M495.9 647.4L485.3 659.0" fill="none" stroke="#0a0a0a" stroke-width="1.45"/>
<path d="M494.2 643.4L504.8 655.0M504.8 643.4L494.2 655.0" fill="none" stroke="#0a0a0a" stroke-width="1.45"/>
<path d="M503.1 639.9L513.7 651.5M513.7 639.9L503.1 651.5" fill="none" stroke="#0a0a0a" stroke-width="1.45"/>
<rect x="77.5" y="606.6" width="63.4" height="99" fill="#fff" stroke="#222" stroke-width="1.2"/>
<circle cx="92.4" cy="618.4" r="5.2" fill="#c4c4c4" stroke="#0a0a0a" stroke-width="1.3"/>
<text x="109.3" y="623.2"  font-size="13.6" fill="#111">10<tspan dy="-5.8" dx="0.5" font-size="7.9">-1</tspan></text>
<rect x="87.3" y="629.9" width="10.2" height="10.2" fill="#c4c4c4" stroke="#0a0a0a" stroke-width="1.3"/>
<text x="109.3" y="639.9"  font-size="13.6" fill="#111">10<tspan dy="-8.2" dx="0.5" font-size="7.9">-2</tspan></text>
<path d="M92.4 648.9L97.3 658.3L87.5 658.3Z" fill="#c4c4c4" stroke="#0a0a0a" stroke-width="1.3"/>
<text x="109.3" y="657.8"  font-size="13.6" fill="#111">10<tspan dy="-7.5" dx="0.5" font-size="7.9">-3</tspan></text>
<path d="M92.4 665.8L97.4 670.8L92.4 675.8L87.4 670.8Z" fill="#c4c4c4" stroke="#0a0a0a" stroke-width="1.3"/>
<text x="109.3" y="675.7"  font-size="13.6" fill="#111">10<tspan dy="-8.5" dx="0.5" font-size="7.9">-4</tspan></text>
<path d="M88.8 687.6L96.0 694.8M96.0 687.6L88.8 694.8" fill="none" stroke="#0a0a0a" stroke-width="1.6"/>
<text x="109.3" y="694.8"  font-size="13.6" fill="#111">10<tspan dy="-8.5" dx="0.5" font-size="7.9">-5</tspan></text>
</svg>
</body></html>
